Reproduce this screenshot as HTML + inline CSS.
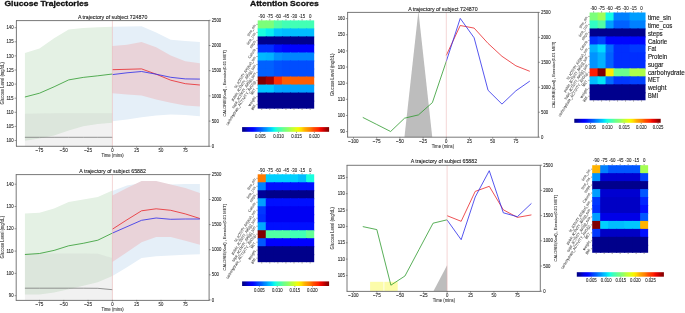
<!DOCTYPE html>
<html><head><meta charset="utf-8"><title>Glucose Trajectories</title>
<style>html,body{margin:0;padding:0;background:#fff;width:685px;height:313px;overflow:hidden}svg{display:block;will-change:transform}text{font-family:"Liberation Sans",sans-serif}</style>
</head><body>
<svg width="685" height="313" viewBox="0 0 685 313" font-family='"Liberation Sans", sans-serif'><defs><linearGradient id="jetg" x1="0" y1="0" x2="1" y2="0"><stop offset="0" stop-color="#000080"/><stop offset="0.03" stop-color="#00009c"/><stop offset="0.05" stop-color="#0000b9"/><stop offset="0.07" stop-color="#0000d6"/><stop offset="0.1" stop-color="#0000f3"/><stop offset="0.12" stop-color="#0000ff"/><stop offset="0.15" stop-color="#0019ff"/><stop offset="0.17" stop-color="#0033ff"/><stop offset="0.2" stop-color="#004dff"/><stop offset="0.23" stop-color="#0066ff"/><stop offset="0.25" stop-color="#0080ff"/><stop offset="0.28" stop-color="#0099ff"/><stop offset="0.3" stop-color="#00b2ff"/><stop offset="0.33" stop-color="#00ccff"/><stop offset="0.35" stop-color="#00e5f7"/><stop offset="0.38" stop-color="#15ffe2"/><stop offset="0.4" stop-color="#29ffce"/><stop offset="0.42" stop-color="#3effb9"/><stop offset="0.45" stop-color="#52ffa5"/><stop offset="0.47" stop-color="#67ff90"/><stop offset="0.5" stop-color="#7bff7b"/><stop offset="0.53" stop-color="#90ff67"/><stop offset="0.55" stop-color="#a5ff52"/><stop offset="0.57" stop-color="#b9ff3e"/><stop offset="0.6" stop-color="#ceff29"/><stop offset="0.62" stop-color="#e2ff15"/><stop offset="0.65" stop-color="#f7f600"/><stop offset="0.68" stop-color="#ffde00"/><stop offset="0.7" stop-color="#ffc600"/><stop offset="0.72" stop-color="#ffaf00"/><stop offset="0.75" stop-color="#ff9700"/><stop offset="0.78" stop-color="#ff8000"/><stop offset="0.8" stop-color="#ff6800"/><stop offset="0.82" stop-color="#ff5000"/><stop offset="0.85" stop-color="#ff3900"/><stop offset="0.88" stop-color="#ff2100"/><stop offset="0.9" stop-color="#f30900"/><stop offset="0.93" stop-color="#d60000"/><stop offset="0.95" stop-color="#b90000"/><stop offset="0.97" stop-color="#9c0000"/><stop offset="1" stop-color="#800000"/></linearGradient></defs>
<clipPath id="clt"><rect x="16.2" y="20.3" width="192.7" height="126"/></clipPath>
<g clip-path="url(#clt)">
<polygon points="24.92,53.1 39.5,48.5 54.08,38.3 68.66,29.4 83.24,28 97.82,27.3 112.4,26.8 112.4,122.8 97.82,124 83.24,126.3 68.66,130.5 54.08,135.5 39.5,138.5 24.92,140.8" fill="#e4f1e4" fill-opacity="1"/>
<polygon points="24.92,113.8 39.5,113.4 54.08,113.2 68.66,113.2 83.24,113.2 97.82,113.2 112.4,113.2 112.4,147 97.82,147 83.24,147 68.66,147 54.08,147 39.5,147 24.92,147" fill="#bdbdbd" fill-opacity="0.22"/>
<polygon points="112.4,26.8 126.98,26.5 141.56,26.3 156.14,32.5 170.72,39.8 185.3,41 199.88,42.1 199.88,116.2 185.3,115 170.72,114.4 156.14,115.5 141.56,117.2 126.98,119.5 112.4,121.3" fill="#e5eff8" fill-opacity="1"/>
<polygon points="112.4,46 126.98,44.7 141.56,42.1 156.14,47.2 170.72,55.5 185.3,61.3 199.88,63.3 199.88,106.5 185.3,105.5 170.72,102.8 156.14,99.5 141.56,95.5 126.98,94.5 112.4,93.2" fill="#e9d3d9" fill-opacity="1"/>
<polyline points="24.92,137.3 39.5,137.3 54.08,137.3 68.66,137.3 83.24,137.3 97.82,137.3 112.4,137.3" fill="none" stroke="#7a7a7a" stroke-width="0.8" stroke-linejoin="round"/>
<polyline points="24.92,97 39.5,93.2 54.08,86.8 68.66,79.9 83.24,77.4 97.82,75.8 112.4,74" fill="none" stroke="#2e9a2e" stroke-width="0.8" stroke-linejoin="round"/>
<polyline points="112.4,69.7 126.98,69.3 141.56,68.9 156.14,74.2 170.72,80.2 185.3,83.7 199.88,85" fill="none" stroke="#e8262a" stroke-width="0.8" stroke-linejoin="round"/>
<polyline points="112.4,74.6 126.98,72.8 141.56,71.5 156.14,74.2 170.72,77.3 185.3,78.9 199.88,79.1" fill="none" stroke="#2b2bea" stroke-width="0.8" stroke-linejoin="round"/>
<line x1="112.4" y1="20.3" x2="112.4" y2="146.3" stroke="#e9aaaa" stroke-width="0.5"/>
</g>
<path d="M16 20.6H209.4M16 146.3H209.4M16.4 20.6V146.3M209 20.6V146.3" stroke="#555" stroke-width="0.8" fill="none"/>
<line x1="14.6" y1="140.5" x2="16.2" y2="140.5" stroke="#555" stroke-width="0.6"/>
<text x="13.6" y="142.1" font-size="4.53" text-anchor="end" fill="#2a2a2a" font-weight="normal" textLength="7.16" lengthAdjust="spacingAndGlyphs" stroke="#2a2a2a" stroke-width="0.1">100</text>
<line x1="14.6" y1="126.4" x2="16.2" y2="126.4" stroke="#555" stroke-width="0.6"/>
<text x="13.6" y="128" font-size="4.53" text-anchor="end" fill="#2a2a2a" font-weight="normal" textLength="7.16" lengthAdjust="spacingAndGlyphs" stroke="#2a2a2a" stroke-width="0.1">105</text>
<line x1="14.6" y1="112.3" x2="16.2" y2="112.3" stroke="#555" stroke-width="0.6"/>
<text x="13.6" y="113.9" font-size="4.53" text-anchor="end" fill="#2a2a2a" font-weight="normal" textLength="7.16" lengthAdjust="spacingAndGlyphs" stroke="#2a2a2a" stroke-width="0.1">110</text>
<line x1="14.6" y1="98.2" x2="16.2" y2="98.2" stroke="#555" stroke-width="0.6"/>
<text x="13.6" y="99.8" font-size="4.53" text-anchor="end" fill="#2a2a2a" font-weight="normal" textLength="7.16" lengthAdjust="spacingAndGlyphs" stroke="#2a2a2a" stroke-width="0.1">115</text>
<line x1="14.6" y1="84.1" x2="16.2" y2="84.1" stroke="#555" stroke-width="0.6"/>
<text x="13.6" y="85.7" font-size="4.53" text-anchor="end" fill="#2a2a2a" font-weight="normal" textLength="7.16" lengthAdjust="spacingAndGlyphs" stroke="#2a2a2a" stroke-width="0.1">120</text>
<line x1="14.6" y1="70" x2="16.2" y2="70" stroke="#555" stroke-width="0.6"/>
<text x="13.6" y="71.6" font-size="4.53" text-anchor="end" fill="#2a2a2a" font-weight="normal" textLength="7.16" lengthAdjust="spacingAndGlyphs" stroke="#2a2a2a" stroke-width="0.1">125</text>
<line x1="14.6" y1="55.9" x2="16.2" y2="55.9" stroke="#555" stroke-width="0.6"/>
<text x="13.6" y="57.5" font-size="4.53" text-anchor="end" fill="#2a2a2a" font-weight="normal" textLength="7.16" lengthAdjust="spacingAndGlyphs" stroke="#2a2a2a" stroke-width="0.1">130</text>
<line x1="14.6" y1="41.8" x2="16.2" y2="41.8" stroke="#555" stroke-width="0.6"/>
<text x="13.6" y="43.4" font-size="4.53" text-anchor="end" fill="#2a2a2a" font-weight="normal" textLength="7.16" lengthAdjust="spacingAndGlyphs" stroke="#2a2a2a" stroke-width="0.1">135</text>
<line x1="14.6" y1="27.7" x2="16.2" y2="27.7" stroke="#555" stroke-width="0.6"/>
<text x="13.6" y="29.3" font-size="4.53" text-anchor="end" fill="#2a2a2a" font-weight="normal" textLength="7.16" lengthAdjust="spacingAndGlyphs" stroke="#2a2a2a" stroke-width="0.1">140</text>
<line x1="208.9" y1="146.3" x2="210.5" y2="146.3" stroke="#555" stroke-width="0.6"/>
<text x="211.7" y="147.9" font-size="4.53" text-anchor="start" fill="#2a2a2a" font-weight="normal" textLength="2.39" lengthAdjust="spacingAndGlyphs" stroke="#2a2a2a" stroke-width="0.1">0</text>
<line x1="208.9" y1="121.1" x2="210.5" y2="121.1" stroke="#555" stroke-width="0.6"/>
<text x="211.7" y="122.7" font-size="4.53" text-anchor="start" fill="#2a2a2a" font-weight="normal" textLength="7.16" lengthAdjust="spacingAndGlyphs" stroke="#2a2a2a" stroke-width="0.1">500</text>
<line x1="208.9" y1="95.9" x2="210.5" y2="95.9" stroke="#555" stroke-width="0.6"/>
<text x="211.7" y="97.5" font-size="4.53" text-anchor="start" fill="#2a2a2a" font-weight="normal" textLength="9.54" lengthAdjust="spacingAndGlyphs" stroke="#2a2a2a" stroke-width="0.1">1000</text>
<line x1="208.9" y1="70.7" x2="210.5" y2="70.7" stroke="#555" stroke-width="0.6"/>
<text x="211.7" y="72.3" font-size="4.53" text-anchor="start" fill="#2a2a2a" font-weight="normal" textLength="9.54" lengthAdjust="spacingAndGlyphs" stroke="#2a2a2a" stroke-width="0.1">1500</text>
<line x1="208.9" y1="45.5" x2="210.5" y2="45.5" stroke="#555" stroke-width="0.6"/>
<text x="211.7" y="47.1" font-size="4.53" text-anchor="start" fill="#2a2a2a" font-weight="normal" textLength="9.54" lengthAdjust="spacingAndGlyphs" stroke="#2a2a2a" stroke-width="0.1">2000</text>
<line x1="208.9" y1="20.3" x2="210.5" y2="20.3" stroke="#555" stroke-width="0.6"/>
<text x="211.7" y="21.9" font-size="4.53" text-anchor="start" fill="#2a2a2a" font-weight="normal" textLength="9.54" lengthAdjust="spacingAndGlyphs" stroke="#2a2a2a" stroke-width="0.1">2500</text>
<line x1="39.5" y1="146.3" x2="39.5" y2="147.9" stroke="#555" stroke-width="0.6"/>
<text x="39.5" y="152.1" font-size="4.53" text-anchor="middle" fill="#2a2a2a" font-weight="normal" textLength="7.91" lengthAdjust="spacingAndGlyphs" stroke="#2a2a2a" stroke-width="0.1">−75</text>
<line x1="63.8" y1="146.3" x2="63.8" y2="147.9" stroke="#555" stroke-width="0.6"/>
<text x="63.8" y="152.1" font-size="4.53" text-anchor="middle" fill="#2a2a2a" font-weight="normal" textLength="7.91" lengthAdjust="spacingAndGlyphs" stroke="#2a2a2a" stroke-width="0.1">−50</text>
<line x1="88.1" y1="146.3" x2="88.1" y2="147.9" stroke="#555" stroke-width="0.6"/>
<text x="88.1" y="152.1" font-size="4.53" text-anchor="middle" fill="#2a2a2a" font-weight="normal" textLength="7.91" lengthAdjust="spacingAndGlyphs" stroke="#2a2a2a" stroke-width="0.1">−25</text>
<line x1="112.4" y1="146.3" x2="112.4" y2="147.9" stroke="#555" stroke-width="0.6"/>
<text x="112.4" y="152.1" font-size="4.53" text-anchor="middle" fill="#2a2a2a" font-weight="normal" textLength="2.39" lengthAdjust="spacingAndGlyphs" stroke="#2a2a2a" stroke-width="0.1">0</text>
<line x1="136.7" y1="146.3" x2="136.7" y2="147.9" stroke="#555" stroke-width="0.6"/>
<text x="136.7" y="152.1" font-size="4.53" text-anchor="middle" fill="#2a2a2a" font-weight="normal" textLength="4.77" lengthAdjust="spacingAndGlyphs" stroke="#2a2a2a" stroke-width="0.1">25</text>
<line x1="161" y1="146.3" x2="161" y2="147.9" stroke="#555" stroke-width="0.6"/>
<text x="161" y="152.1" font-size="4.53" text-anchor="middle" fill="#2a2a2a" font-weight="normal" textLength="4.77" lengthAdjust="spacingAndGlyphs" stroke="#2a2a2a" stroke-width="0.1">50</text>
<line x1="185.3" y1="146.3" x2="185.3" y2="147.9" stroke="#555" stroke-width="0.6"/>
<text x="185.3" y="152.1" font-size="4.53" text-anchor="middle" fill="#2a2a2a" font-weight="normal" textLength="4.77" lengthAdjust="spacingAndGlyphs" stroke="#2a2a2a" stroke-width="0.1">75</text>
<text x="112.55" y="157.3" font-size="4.53" text-anchor="middle" fill="#333" font-weight="normal" textLength="22.32" lengthAdjust="spacingAndGlyphs" stroke="#333" stroke-width="0.08">Time (mins)</text>
<text x="4.2" y="83.3" font-size="4.71" text-anchor="middle" fill="#333" font-weight="normal" transform="rotate(-90 4.2 83.3)" textLength="42.48" lengthAdjust="spacingAndGlyphs" stroke="#333" stroke-width="0.06">Glucose Level (mg/dL)</text>
<text x="226" y="83.3" font-size="3.94" text-anchor="middle" fill="#333" font-weight="normal" transform="rotate(-90 226 83.3)" textLength="66.5" lengthAdjust="spacingAndGlyphs" stroke="#333" stroke-width="0.07">CALORIE(Kcal) , Exercise(0.01 MET)</text>
<text x="112.6" y="18.7" font-size="5.51" text-anchor="middle" fill="#1a1a1a" font-weight="normal" textLength="69.44" lengthAdjust="spacingAndGlyphs" stroke="#1a1a1a" stroke-width="0.1">A trajectory of subject 724870</text>
<clipPath id="clb"><rect x="16.2" y="174.4" width="192.8" height="125.5"/></clipPath>
<g clip-path="url(#clb)">
<polygon points="24.92,213.6 39.5,212.8 54.08,208.5 68.66,202.1 83.24,199.6 97.82,197 112.4,190.6 112.4,276 97.82,282.3 83.24,285.7 68.66,289.2 54.08,292.5 39.5,294.6 24.92,294.6" fill="#e4f1e4" fill-opacity="1"/>
<polygon points="24.92,253.5 39.5,253.5 54.08,253.5 68.66,253.5 83.24,253.5 97.82,253.8 112.4,258 112.4,301 97.82,301 83.24,301 68.66,301 54.08,301 39.5,301 24.92,301" fill="#bdbdbd" fill-opacity="0.22"/>
<polygon points="112.4,190.9 126.98,185.5 141.56,183 156.14,183 170.72,184.5 185.3,184.1 199.88,184.1 199.88,254.3 185.3,254.8 170.72,255.5 156.14,256.3 141.56,258.1 126.98,267.3 112.4,276" fill="#e5eff8" fill-opacity="1"/>
<polygon points="112.4,195.6 126.98,188 141.56,181 156.14,180.9 170.72,184.5 185.3,188 199.88,193.1 199.88,244.8 185.3,240.7 170.72,237.1 156.14,237.1 141.56,242.3 126.98,252.3 112.4,261.9" fill="#e9d3d9" fill-opacity="1"/>
<polyline points="24.92,288.2 39.5,288.2 54.08,288.2 68.66,288.2 83.24,288.2 97.82,288.3 112.4,289.7" fill="none" stroke="#7a7a7a" stroke-width="0.8" stroke-linejoin="round"/>
<polyline points="24.92,254.5 39.5,253.5 54.08,250.4 68.66,245.8 83.24,243.3 97.82,240.2 112.4,233.1" fill="none" stroke="#2e9a2e" stroke-width="0.8" stroke-linejoin="round"/>
<polyline points="112.4,229.2 126.98,219.8 141.56,210.8 156.14,208.8 170.72,210.3 185.3,213.9 199.88,218.5" fill="none" stroke="#e8262a" stroke-width="0.8" stroke-linejoin="round"/>
<polyline points="112.4,233.1 126.98,226.7 141.56,220.3 156.14,218 170.72,219.3 185.3,219 199.88,219" fill="none" stroke="#2b2bea" stroke-width="0.8" stroke-linejoin="round"/>
<line x1="112.4" y1="174.4" x2="112.4" y2="299.9" stroke="#e9aaaa" stroke-width="0.5"/>
</g>
<path d="M15.8 174.6H209.5M15.8 300.4H209.5M16.2 174.6V300.4M209.1 174.6V300.4" stroke="#555" stroke-width="0.8" fill="none"/>
<line x1="14.6" y1="295.7" x2="16.2" y2="295.7" stroke="#555" stroke-width="0.6"/>
<text x="13.6" y="297.3" font-size="4.53" text-anchor="end" fill="#2a2a2a" font-weight="normal" textLength="4.77" lengthAdjust="spacingAndGlyphs" stroke="#2a2a2a" stroke-width="0.1">90</text>
<line x1="14.6" y1="273.4" x2="16.2" y2="273.4" stroke="#555" stroke-width="0.6"/>
<text x="13.6" y="275" font-size="4.53" text-anchor="end" fill="#2a2a2a" font-weight="normal" textLength="7.16" lengthAdjust="spacingAndGlyphs" stroke="#2a2a2a" stroke-width="0.1">100</text>
<line x1="14.6" y1="251.1" x2="16.2" y2="251.1" stroke="#555" stroke-width="0.6"/>
<text x="13.6" y="252.7" font-size="4.53" text-anchor="end" fill="#2a2a2a" font-weight="normal" textLength="7.16" lengthAdjust="spacingAndGlyphs" stroke="#2a2a2a" stroke-width="0.1">110</text>
<line x1="14.6" y1="228.8" x2="16.2" y2="228.8" stroke="#555" stroke-width="0.6"/>
<text x="13.6" y="230.4" font-size="4.53" text-anchor="end" fill="#2a2a2a" font-weight="normal" textLength="7.16" lengthAdjust="spacingAndGlyphs" stroke="#2a2a2a" stroke-width="0.1">120</text>
<line x1="14.6" y1="206.5" x2="16.2" y2="206.5" stroke="#555" stroke-width="0.6"/>
<text x="13.6" y="208.1" font-size="4.53" text-anchor="end" fill="#2a2a2a" font-weight="normal" textLength="7.16" lengthAdjust="spacingAndGlyphs" stroke="#2a2a2a" stroke-width="0.1">130</text>
<line x1="14.6" y1="184.2" x2="16.2" y2="184.2" stroke="#555" stroke-width="0.6"/>
<text x="13.6" y="185.8" font-size="4.53" text-anchor="end" fill="#2a2a2a" font-weight="normal" textLength="7.16" lengthAdjust="spacingAndGlyphs" stroke="#2a2a2a" stroke-width="0.1">140</text>
<line x1="209" y1="299.9" x2="210.6" y2="299.9" stroke="#555" stroke-width="0.6"/>
<text x="211.8" y="301.5" font-size="4.53" text-anchor="start" fill="#2a2a2a" font-weight="normal" textLength="2.39" lengthAdjust="spacingAndGlyphs" stroke="#2a2a2a" stroke-width="0.1">0</text>
<line x1="209" y1="274.8" x2="210.6" y2="274.8" stroke="#555" stroke-width="0.6"/>
<text x="211.8" y="276.4" font-size="4.53" text-anchor="start" fill="#2a2a2a" font-weight="normal" textLength="7.16" lengthAdjust="spacingAndGlyphs" stroke="#2a2a2a" stroke-width="0.1">500</text>
<line x1="209" y1="249.7" x2="210.6" y2="249.7" stroke="#555" stroke-width="0.6"/>
<text x="211.8" y="251.3" font-size="4.53" text-anchor="start" fill="#2a2a2a" font-weight="normal" textLength="9.54" lengthAdjust="spacingAndGlyphs" stroke="#2a2a2a" stroke-width="0.1">1000</text>
<line x1="209" y1="224.6" x2="210.6" y2="224.6" stroke="#555" stroke-width="0.6"/>
<text x="211.8" y="226.2" font-size="4.53" text-anchor="start" fill="#2a2a2a" font-weight="normal" textLength="9.54" lengthAdjust="spacingAndGlyphs" stroke="#2a2a2a" stroke-width="0.1">1500</text>
<line x1="209" y1="199.5" x2="210.6" y2="199.5" stroke="#555" stroke-width="0.6"/>
<text x="211.8" y="201.1" font-size="4.53" text-anchor="start" fill="#2a2a2a" font-weight="normal" textLength="9.54" lengthAdjust="spacingAndGlyphs" stroke="#2a2a2a" stroke-width="0.1">2000</text>
<line x1="209" y1="174.4" x2="210.6" y2="174.4" stroke="#555" stroke-width="0.6"/>
<text x="211.8" y="176" font-size="4.53" text-anchor="start" fill="#2a2a2a" font-weight="normal" textLength="9.54" lengthAdjust="spacingAndGlyphs" stroke="#2a2a2a" stroke-width="0.1">2500</text>
<line x1="39.5" y1="299.9" x2="39.5" y2="301.5" stroke="#555" stroke-width="0.6"/>
<text x="39.5" y="305.7" font-size="4.53" text-anchor="middle" fill="#2a2a2a" font-weight="normal" textLength="7.91" lengthAdjust="spacingAndGlyphs" stroke="#2a2a2a" stroke-width="0.1">−75</text>
<line x1="63.8" y1="299.9" x2="63.8" y2="301.5" stroke="#555" stroke-width="0.6"/>
<text x="63.8" y="305.7" font-size="4.53" text-anchor="middle" fill="#2a2a2a" font-weight="normal" textLength="7.91" lengthAdjust="spacingAndGlyphs" stroke="#2a2a2a" stroke-width="0.1">−50</text>
<line x1="88.1" y1="299.9" x2="88.1" y2="301.5" stroke="#555" stroke-width="0.6"/>
<text x="88.1" y="305.7" font-size="4.53" text-anchor="middle" fill="#2a2a2a" font-weight="normal" textLength="7.91" lengthAdjust="spacingAndGlyphs" stroke="#2a2a2a" stroke-width="0.1">−25</text>
<line x1="112.4" y1="299.9" x2="112.4" y2="301.5" stroke="#555" stroke-width="0.6"/>
<text x="112.4" y="305.7" font-size="4.53" text-anchor="middle" fill="#2a2a2a" font-weight="normal" textLength="2.39" lengthAdjust="spacingAndGlyphs" stroke="#2a2a2a" stroke-width="0.1">0</text>
<line x1="136.7" y1="299.9" x2="136.7" y2="301.5" stroke="#555" stroke-width="0.6"/>
<text x="136.7" y="305.7" font-size="4.53" text-anchor="middle" fill="#2a2a2a" font-weight="normal" textLength="4.77" lengthAdjust="spacingAndGlyphs" stroke="#2a2a2a" stroke-width="0.1">25</text>
<line x1="161" y1="299.9" x2="161" y2="301.5" stroke="#555" stroke-width="0.6"/>
<text x="161" y="305.7" font-size="4.53" text-anchor="middle" fill="#2a2a2a" font-weight="normal" textLength="4.77" lengthAdjust="spacingAndGlyphs" stroke="#2a2a2a" stroke-width="0.1">50</text>
<line x1="185.3" y1="299.9" x2="185.3" y2="301.5" stroke="#555" stroke-width="0.6"/>
<text x="185.3" y="305.7" font-size="4.53" text-anchor="middle" fill="#2a2a2a" font-weight="normal" textLength="4.77" lengthAdjust="spacingAndGlyphs" stroke="#2a2a2a" stroke-width="0.1">75</text>
<text x="112.6" y="310.9" font-size="4.53" text-anchor="middle" fill="#333" font-weight="normal" textLength="22.32" lengthAdjust="spacingAndGlyphs" stroke="#333" stroke-width="0.08">Time (mins)</text>
<text x="4.2" y="237.15" font-size="4.71" text-anchor="middle" fill="#333" font-weight="normal" transform="rotate(-90 4.2 237.15)" textLength="42.48" lengthAdjust="spacingAndGlyphs" stroke="#333" stroke-width="0.06">Glucose Level (mg/dL)</text>
<text x="226" y="237.15" font-size="3.94" text-anchor="middle" fill="#333" font-weight="normal" transform="rotate(-90 226 237.15)" textLength="66.5" lengthAdjust="spacingAndGlyphs" stroke="#333" stroke-width="0.07">CALORIE(Kcal) , Exercise(0.01 MET)</text>
<text x="112.6" y="172.7" font-size="5.51" text-anchor="middle" fill="#1a1a1a" font-weight="normal" textLength="66.53" lengthAdjust="spacingAndGlyphs" stroke="#1a1a1a" stroke-width="0.1">A trajectory of subject 65882</text>
<clipPath id="cmt"><rect x="347.5" y="12.4" width="190.8" height="124.8"/></clipPath>
<g clip-path="url(#cmt)">
<polygon points="404.4,137.5 418.4,11 432.3,137.5" fill="#bdbdbd" fill-opacity="1"/>
<polyline points="362.78,117.4 376.7,124.45 390.62,131.5 404.54,118.2 418.46,114.9 432.38,102.6 446.3,61.3" fill="none" stroke="#2e9a2e" stroke-width="0.8" stroke-linejoin="round"/>
<polyline points="446.3,55.4 460.22,25.5 474.14,28.1 488.06,43.4 501.98,56.3 515.9,65.8 529.82,71.3" fill="none" stroke="#e8262a" stroke-width="0.8" stroke-linejoin="round"/>
<polyline points="446.3,61.3 460.22,18.4 474.14,37.8 488.06,90.3 501.98,104.1 515.9,90.8 529.82,81.1" fill="none" stroke="#2b2bea" stroke-width="0.8" stroke-linejoin="round"/>
<line x1="446.3" y1="12.4" x2="446.3" y2="137.2" stroke="#e9aaaa" stroke-width="0.5"/>
</g>
<path d="M347.2 12.4H538.7M347.2 137.2H538.7M347.6 12.4V137.2M538.3 12.4V137.2" stroke="#555" stroke-width="0.8" fill="none"/>
<line x1="345.9" y1="131.6" x2="347.5" y2="131.6" stroke="#555" stroke-width="0.6"/>
<text x="344.9" y="133.2" font-size="4.53" text-anchor="end" fill="#2a2a2a" font-weight="normal" textLength="4.77" lengthAdjust="spacingAndGlyphs" stroke="#2a2a2a" stroke-width="0.1">90</text>
<line x1="345.9" y1="115.46" x2="347.5" y2="115.46" stroke="#555" stroke-width="0.6"/>
<text x="344.9" y="117.06" font-size="4.53" text-anchor="end" fill="#2a2a2a" font-weight="normal" textLength="7.16" lengthAdjust="spacingAndGlyphs" stroke="#2a2a2a" stroke-width="0.1">100</text>
<line x1="345.9" y1="99.32" x2="347.5" y2="99.32" stroke="#555" stroke-width="0.6"/>
<text x="344.9" y="100.92" font-size="4.53" text-anchor="end" fill="#2a2a2a" font-weight="normal" textLength="7.16" lengthAdjust="spacingAndGlyphs" stroke="#2a2a2a" stroke-width="0.1">110</text>
<line x1="345.9" y1="83.18" x2="347.5" y2="83.18" stroke="#555" stroke-width="0.6"/>
<text x="344.9" y="84.78" font-size="4.53" text-anchor="end" fill="#2a2a2a" font-weight="normal" textLength="7.16" lengthAdjust="spacingAndGlyphs" stroke="#2a2a2a" stroke-width="0.1">120</text>
<line x1="345.9" y1="67.04" x2="347.5" y2="67.04" stroke="#555" stroke-width="0.6"/>
<text x="344.9" y="68.64" font-size="4.53" text-anchor="end" fill="#2a2a2a" font-weight="normal" textLength="7.16" lengthAdjust="spacingAndGlyphs" stroke="#2a2a2a" stroke-width="0.1">130</text>
<line x1="345.9" y1="50.9" x2="347.5" y2="50.9" stroke="#555" stroke-width="0.6"/>
<text x="344.9" y="52.5" font-size="4.53" text-anchor="end" fill="#2a2a2a" font-weight="normal" textLength="7.16" lengthAdjust="spacingAndGlyphs" stroke="#2a2a2a" stroke-width="0.1">140</text>
<line x1="345.9" y1="34.76" x2="347.5" y2="34.76" stroke="#555" stroke-width="0.6"/>
<text x="344.9" y="36.36" font-size="4.53" text-anchor="end" fill="#2a2a2a" font-weight="normal" textLength="7.16" lengthAdjust="spacingAndGlyphs" stroke="#2a2a2a" stroke-width="0.1">150</text>
<line x1="345.9" y1="18.62" x2="347.5" y2="18.62" stroke="#555" stroke-width="0.6"/>
<text x="344.9" y="20.22" font-size="4.53" text-anchor="end" fill="#2a2a2a" font-weight="normal" textLength="7.16" lengthAdjust="spacingAndGlyphs" stroke="#2a2a2a" stroke-width="0.1">160</text>
<line x1="538.3" y1="137.2" x2="539.9" y2="137.2" stroke="#555" stroke-width="0.6"/>
<text x="541.1" y="138.8" font-size="4.53" text-anchor="start" fill="#2a2a2a" font-weight="normal" textLength="2.39" lengthAdjust="spacingAndGlyphs" stroke="#2a2a2a" stroke-width="0.1">0</text>
<line x1="538.3" y1="112.24" x2="539.9" y2="112.24" stroke="#555" stroke-width="0.6"/>
<text x="541.1" y="113.84" font-size="4.53" text-anchor="start" fill="#2a2a2a" font-weight="normal" textLength="7.16" lengthAdjust="spacingAndGlyphs" stroke="#2a2a2a" stroke-width="0.1">500</text>
<line x1="538.3" y1="87.28" x2="539.9" y2="87.28" stroke="#555" stroke-width="0.6"/>
<text x="541.1" y="88.88" font-size="4.53" text-anchor="start" fill="#2a2a2a" font-weight="normal" textLength="9.54" lengthAdjust="spacingAndGlyphs" stroke="#2a2a2a" stroke-width="0.1">1000</text>
<line x1="538.3" y1="62.32" x2="539.9" y2="62.32" stroke="#555" stroke-width="0.6"/>
<text x="541.1" y="63.92" font-size="4.53" text-anchor="start" fill="#2a2a2a" font-weight="normal" textLength="9.54" lengthAdjust="spacingAndGlyphs" stroke="#2a2a2a" stroke-width="0.1">1500</text>
<line x1="538.3" y1="37.36" x2="539.9" y2="37.36" stroke="#555" stroke-width="0.6"/>
<text x="541.1" y="38.96" font-size="4.53" text-anchor="start" fill="#2a2a2a" font-weight="normal" textLength="9.54" lengthAdjust="spacingAndGlyphs" stroke="#2a2a2a" stroke-width="0.1">2000</text>
<line x1="538.3" y1="12.4" x2="539.9" y2="12.4" stroke="#555" stroke-width="0.6"/>
<text x="541.1" y="14" font-size="4.53" text-anchor="start" fill="#2a2a2a" font-weight="normal" textLength="9.54" lengthAdjust="spacingAndGlyphs" stroke="#2a2a2a" stroke-width="0.1">2500</text>
<line x1="353.5" y1="137.2" x2="353.5" y2="138.8" stroke="#555" stroke-width="0.6"/>
<text x="353.5" y="143" font-size="4.53" text-anchor="middle" fill="#2a2a2a" font-weight="normal" textLength="10.3" lengthAdjust="spacingAndGlyphs" stroke="#2a2a2a" stroke-width="0.1">−100</text>
<line x1="376.7" y1="137.2" x2="376.7" y2="138.8" stroke="#555" stroke-width="0.6"/>
<text x="376.7" y="143" font-size="4.53" text-anchor="middle" fill="#2a2a2a" font-weight="normal" textLength="7.91" lengthAdjust="spacingAndGlyphs" stroke="#2a2a2a" stroke-width="0.1">−75</text>
<line x1="399.9" y1="137.2" x2="399.9" y2="138.8" stroke="#555" stroke-width="0.6"/>
<text x="399.9" y="143" font-size="4.53" text-anchor="middle" fill="#2a2a2a" font-weight="normal" textLength="7.91" lengthAdjust="spacingAndGlyphs" stroke="#2a2a2a" stroke-width="0.1">−50</text>
<line x1="423.1" y1="137.2" x2="423.1" y2="138.8" stroke="#555" stroke-width="0.6"/>
<text x="423.1" y="143" font-size="4.53" text-anchor="middle" fill="#2a2a2a" font-weight="normal" textLength="7.91" lengthAdjust="spacingAndGlyphs" stroke="#2a2a2a" stroke-width="0.1">−25</text>
<line x1="446.3" y1="137.2" x2="446.3" y2="138.8" stroke="#555" stroke-width="0.6"/>
<text x="446.3" y="143" font-size="4.53" text-anchor="middle" fill="#2a2a2a" font-weight="normal" textLength="2.39" lengthAdjust="spacingAndGlyphs" stroke="#2a2a2a" stroke-width="0.1">0</text>
<line x1="469.5" y1="137.2" x2="469.5" y2="138.8" stroke="#555" stroke-width="0.6"/>
<text x="469.5" y="143" font-size="4.53" text-anchor="middle" fill="#2a2a2a" font-weight="normal" textLength="4.77" lengthAdjust="spacingAndGlyphs" stroke="#2a2a2a" stroke-width="0.1">25</text>
<line x1="492.7" y1="137.2" x2="492.7" y2="138.8" stroke="#555" stroke-width="0.6"/>
<text x="492.7" y="143" font-size="4.53" text-anchor="middle" fill="#2a2a2a" font-weight="normal" textLength="4.77" lengthAdjust="spacingAndGlyphs" stroke="#2a2a2a" stroke-width="0.1">50</text>
<line x1="515.9" y1="137.2" x2="515.9" y2="138.8" stroke="#555" stroke-width="0.6"/>
<text x="515.9" y="143" font-size="4.53" text-anchor="middle" fill="#2a2a2a" font-weight="normal" textLength="4.77" lengthAdjust="spacingAndGlyphs" stroke="#2a2a2a" stroke-width="0.1">75</text>
<text x="442.9" y="148.2" font-size="4.53" text-anchor="middle" fill="#333" font-weight="normal" textLength="22.32" lengthAdjust="spacingAndGlyphs" stroke="#333" stroke-width="0.08">Time (mins)</text>
<text x="334.4" y="74.8" font-size="4.71" text-anchor="middle" fill="#333" font-weight="normal" transform="rotate(-90 334.4 74.8)" textLength="42.48" lengthAdjust="spacingAndGlyphs" stroke="#333" stroke-width="0.06">Glucose Level (mg/dL)</text>
<text x="555" y="74.8" font-size="3.94" text-anchor="middle" fill="#333" font-weight="normal" transform="rotate(-90 555 74.8)" textLength="66.5" lengthAdjust="spacingAndGlyphs" stroke="#333" stroke-width="0.07">CALORIE(Kcal) , Exercise(0.01 MET)</text>
<text x="442.9" y="10.8" font-size="5.51" text-anchor="middle" fill="#1a1a1a" font-weight="normal" textLength="69.44" lengthAdjust="spacingAndGlyphs" stroke="#1a1a1a" stroke-width="0.1">A trajectory of subject 724870</text>
<clipPath id="cmb"><rect x="347.5" y="165.2" width="193" height="126"/></clipPath>
<g clip-path="url(#cmb)">
<rect x="370.1" y="281.8" width="13.4" height="9.2" fill="#fcfcaa"/>
<rect x="384.3" y="281.8" width="13.4" height="9.2" fill="#fcfcaa"/>
<polygon points="433.4,291.2 447.1,265.2 447.1,291.2" fill="#bdbdbd" fill-opacity="1"/>
<polyline points="362.77,226.6 376.83,229.6 390.88,285.2 404.94,276 418.99,249.6 433.05,223.2 447.1,219.8" fill="none" stroke="#2e9a2e" stroke-width="0.8" stroke-linejoin="round"/>
<polyline points="447.1,215.7 461.16,221.3 475.21,191.4 489.27,186.3 503.32,209.8 517.38,217.4 531.43,214.9" fill="none" stroke="#e8262a" stroke-width="0.8" stroke-linejoin="round"/>
<polyline points="447.1,220 461.16,239.7 475.21,197 489.27,170.7 503.32,212.8 517.38,216.7 531.43,203.4" fill="none" stroke="#2b2bea" stroke-width="0.8" stroke-linejoin="round"/>
<line x1="447.1" y1="165.2" x2="447.1" y2="291.2" stroke="#e9aaaa" stroke-width="0.5"/>
</g>
<path d="M346.6 165.3H540.7M346.6 291.4H540.7M347 165.3V291.4M540.3 165.3V291.4" stroke="#555" stroke-width="0.8" fill="none"/>
<line x1="345.9" y1="275.45" x2="347.5" y2="275.45" stroke="#555" stroke-width="0.6"/>
<text x="344.9" y="277.05" font-size="4.53" text-anchor="end" fill="#2a2a2a" font-weight="normal" textLength="7.16" lengthAdjust="spacingAndGlyphs" stroke="#2a2a2a" stroke-width="0.1">105</text>
<line x1="345.9" y1="259.1" x2="347.5" y2="259.1" stroke="#555" stroke-width="0.6"/>
<text x="344.9" y="260.7" font-size="4.53" text-anchor="end" fill="#2a2a2a" font-weight="normal" textLength="7.16" lengthAdjust="spacingAndGlyphs" stroke="#2a2a2a" stroke-width="0.1">110</text>
<line x1="345.9" y1="242.75" x2="347.5" y2="242.75" stroke="#555" stroke-width="0.6"/>
<text x="344.9" y="244.35" font-size="4.53" text-anchor="end" fill="#2a2a2a" font-weight="normal" textLength="7.16" lengthAdjust="spacingAndGlyphs" stroke="#2a2a2a" stroke-width="0.1">115</text>
<line x1="345.9" y1="226.4" x2="347.5" y2="226.4" stroke="#555" stroke-width="0.6"/>
<text x="344.9" y="228" font-size="4.53" text-anchor="end" fill="#2a2a2a" font-weight="normal" textLength="7.16" lengthAdjust="spacingAndGlyphs" stroke="#2a2a2a" stroke-width="0.1">120</text>
<line x1="345.9" y1="210.05" x2="347.5" y2="210.05" stroke="#555" stroke-width="0.6"/>
<text x="344.9" y="211.65" font-size="4.53" text-anchor="end" fill="#2a2a2a" font-weight="normal" textLength="7.16" lengthAdjust="spacingAndGlyphs" stroke="#2a2a2a" stroke-width="0.1">125</text>
<line x1="345.9" y1="193.7" x2="347.5" y2="193.7" stroke="#555" stroke-width="0.6"/>
<text x="344.9" y="195.3" font-size="4.53" text-anchor="end" fill="#2a2a2a" font-weight="normal" textLength="7.16" lengthAdjust="spacingAndGlyphs" stroke="#2a2a2a" stroke-width="0.1">130</text>
<line x1="345.9" y1="177.35" x2="347.5" y2="177.35" stroke="#555" stroke-width="0.6"/>
<text x="344.9" y="178.95" font-size="4.53" text-anchor="end" fill="#2a2a2a" font-weight="normal" textLength="7.16" lengthAdjust="spacingAndGlyphs" stroke="#2a2a2a" stroke-width="0.1">135</text>
<line x1="540.5" y1="291.2" x2="542.1" y2="291.2" stroke="#555" stroke-width="0.6"/>
<text x="543.3" y="292.8" font-size="4.53" text-anchor="start" fill="#2a2a2a" font-weight="normal" textLength="2.39" lengthAdjust="spacingAndGlyphs" stroke="#2a2a2a" stroke-width="0.1">0</text>
<line x1="540.5" y1="266" x2="542.1" y2="266" stroke="#555" stroke-width="0.6"/>
<text x="543.3" y="267.6" font-size="4.53" text-anchor="start" fill="#2a2a2a" font-weight="normal" textLength="7.16" lengthAdjust="spacingAndGlyphs" stroke="#2a2a2a" stroke-width="0.1">500</text>
<line x1="540.5" y1="240.8" x2="542.1" y2="240.8" stroke="#555" stroke-width="0.6"/>
<text x="543.3" y="242.4" font-size="4.53" text-anchor="start" fill="#2a2a2a" font-weight="normal" textLength="9.54" lengthAdjust="spacingAndGlyphs" stroke="#2a2a2a" stroke-width="0.1">1000</text>
<line x1="540.5" y1="215.6" x2="542.1" y2="215.6" stroke="#555" stroke-width="0.6"/>
<text x="543.3" y="217.2" font-size="4.53" text-anchor="start" fill="#2a2a2a" font-weight="normal" textLength="9.54" lengthAdjust="spacingAndGlyphs" stroke="#2a2a2a" stroke-width="0.1">1500</text>
<line x1="540.5" y1="190.4" x2="542.1" y2="190.4" stroke="#555" stroke-width="0.6"/>
<text x="543.3" y="192" font-size="4.53" text-anchor="start" fill="#2a2a2a" font-weight="normal" textLength="9.54" lengthAdjust="spacingAndGlyphs" stroke="#2a2a2a" stroke-width="0.1">2000</text>
<line x1="540.5" y1="165.2" x2="542.1" y2="165.2" stroke="#555" stroke-width="0.6"/>
<text x="543.3" y="166.8" font-size="4.53" text-anchor="start" fill="#2a2a2a" font-weight="normal" textLength="9.54" lengthAdjust="spacingAndGlyphs" stroke="#2a2a2a" stroke-width="0.1">2500</text>
<line x1="353.4" y1="291.2" x2="353.4" y2="292.8" stroke="#555" stroke-width="0.6"/>
<text x="353.4" y="297" font-size="4.53" text-anchor="middle" fill="#2a2a2a" font-weight="normal" textLength="10.3" lengthAdjust="spacingAndGlyphs" stroke="#2a2a2a" stroke-width="0.1">−100</text>
<line x1="376.83" y1="291.2" x2="376.83" y2="292.8" stroke="#555" stroke-width="0.6"/>
<text x="376.83" y="297" font-size="4.53" text-anchor="middle" fill="#2a2a2a" font-weight="normal" textLength="7.91" lengthAdjust="spacingAndGlyphs" stroke="#2a2a2a" stroke-width="0.1">−75</text>
<line x1="400.25" y1="291.2" x2="400.25" y2="292.8" stroke="#555" stroke-width="0.6"/>
<text x="400.25" y="297" font-size="4.53" text-anchor="middle" fill="#2a2a2a" font-weight="normal" textLength="7.91" lengthAdjust="spacingAndGlyphs" stroke="#2a2a2a" stroke-width="0.1">−50</text>
<line x1="423.68" y1="291.2" x2="423.68" y2="292.8" stroke="#555" stroke-width="0.6"/>
<text x="423.68" y="297" font-size="4.53" text-anchor="middle" fill="#2a2a2a" font-weight="normal" textLength="7.91" lengthAdjust="spacingAndGlyphs" stroke="#2a2a2a" stroke-width="0.1">−25</text>
<line x1="447.1" y1="291.2" x2="447.1" y2="292.8" stroke="#555" stroke-width="0.6"/>
<text x="447.1" y="297" font-size="4.53" text-anchor="middle" fill="#2a2a2a" font-weight="normal" textLength="2.39" lengthAdjust="spacingAndGlyphs" stroke="#2a2a2a" stroke-width="0.1">0</text>
<line x1="470.53" y1="291.2" x2="470.53" y2="292.8" stroke="#555" stroke-width="0.6"/>
<text x="470.53" y="297" font-size="4.53" text-anchor="middle" fill="#2a2a2a" font-weight="normal" textLength="4.77" lengthAdjust="spacingAndGlyphs" stroke="#2a2a2a" stroke-width="0.1">25</text>
<line x1="493.95" y1="291.2" x2="493.95" y2="292.8" stroke="#555" stroke-width="0.6"/>
<text x="493.95" y="297" font-size="4.53" text-anchor="middle" fill="#2a2a2a" font-weight="normal" textLength="4.77" lengthAdjust="spacingAndGlyphs" stroke="#2a2a2a" stroke-width="0.1">50</text>
<line x1="517.38" y1="291.2" x2="517.38" y2="292.8" stroke="#555" stroke-width="0.6"/>
<text x="517.38" y="297" font-size="4.53" text-anchor="middle" fill="#2a2a2a" font-weight="normal" textLength="4.77" lengthAdjust="spacingAndGlyphs" stroke="#2a2a2a" stroke-width="0.1">75</text>
<text x="444" y="302.2" font-size="4.53" text-anchor="middle" fill="#333" font-weight="normal" textLength="22.32" lengthAdjust="spacingAndGlyphs" stroke="#333" stroke-width="0.08">Time (mins)</text>
<text x="334.4" y="228.2" font-size="4.71" text-anchor="middle" fill="#333" font-weight="normal" transform="rotate(-90 334.4 228.2)" textLength="42.48" lengthAdjust="spacingAndGlyphs" stroke="#333" stroke-width="0.06">Glucose Level (mg/dL)</text>
<text x="557" y="228.2" font-size="3.94" text-anchor="middle" fill="#333" font-weight="normal" transform="rotate(-90 557 228.2)" textLength="66.5" lengthAdjust="spacingAndGlyphs" stroke="#333" stroke-width="0.07">CALORIE(Kcal) , Exercise(0.01 MET)</text>
<text x="443.9" y="163.3" font-size="5.51" text-anchor="middle" fill="#1a1a1a" font-weight="normal" textLength="66.53" lengthAdjust="spacingAndGlyphs" stroke="#1a1a1a" stroke-width="0.1">A trajectory of subject 65882</text>
<rect x="257.7" y="20.4" width="9.07" height="9.02" fill="#7bff7b"/>
<rect x="265.77" y="20.4" width="9.07" height="9.02" fill="#7bff7b"/>
<rect x="273.84" y="20.4" width="9.07" height="9.02" fill="#52ffa5"/>
<rect x="281.91" y="20.4" width="9.07" height="9.02" fill="#42ffb5"/>
<rect x="289.98" y="20.4" width="9.07" height="9.02" fill="#42ffb5"/>
<rect x="298.05" y="20.4" width="9.07" height="9.02" fill="#42ffb5"/>
<rect x="306.12" y="20.4" width="8.07" height="9.02" fill="#42ffb5"/>
<rect x="257.7" y="28.42" width="9.07" height="9.02" fill="#19ffde"/>
<rect x="265.77" y="28.42" width="9.07" height="9.02" fill="#08f0ef"/>
<rect x="273.84" y="28.42" width="9.07" height="9.02" fill="#00c7ff"/>
<rect x="281.91" y="28.42" width="9.07" height="9.02" fill="#00bdff"/>
<rect x="289.98" y="28.42" width="9.07" height="9.02" fill="#00bdff"/>
<rect x="298.05" y="28.42" width="9.07" height="9.02" fill="#00bdff"/>
<rect x="306.12" y="28.42" width="8.07" height="9.02" fill="#00bdff"/>
<rect x="257.7" y="36.44" width="9.07" height="9.02" fill="#00008d"/>
<rect x="265.77" y="36.44" width="9.07" height="9.02" fill="#00008d"/>
<rect x="273.84" y="36.44" width="9.07" height="9.02" fill="#00008d"/>
<rect x="281.91" y="36.44" width="9.07" height="9.02" fill="#00008d"/>
<rect x="289.98" y="36.44" width="9.07" height="9.02" fill="#00008d"/>
<rect x="298.05" y="36.44" width="9.07" height="9.02" fill="#00008d"/>
<rect x="306.12" y="36.44" width="8.07" height="9.02" fill="#00008d"/>
<rect x="257.7" y="44.46" width="9.07" height="9.02" fill="#002eff"/>
<rect x="265.77" y="44.46" width="9.07" height="9.02" fill="#002eff"/>
<rect x="273.84" y="44.46" width="9.07" height="9.02" fill="#000fff"/>
<rect x="281.91" y="44.46" width="9.07" height="9.02" fill="#0003ff"/>
<rect x="289.98" y="44.46" width="9.07" height="9.02" fill="#0003ff"/>
<rect x="298.05" y="44.46" width="9.07" height="9.02" fill="#0003ff"/>
<rect x="306.12" y="44.46" width="8.07" height="9.02" fill="#0003ff"/>
<rect x="257.7" y="52.48" width="9.07" height="9.02" fill="#00b8ff"/>
<rect x="265.77" y="52.48" width="9.07" height="9.02" fill="#00b2ff"/>
<rect x="273.84" y="52.48" width="9.07" height="9.02" fill="#008fff"/>
<rect x="281.91" y="52.48" width="9.07" height="9.02" fill="#0085ff"/>
<rect x="289.98" y="52.48" width="9.07" height="9.02" fill="#0085ff"/>
<rect x="298.05" y="52.48" width="9.07" height="9.02" fill="#0085ff"/>
<rect x="306.12" y="52.48" width="8.07" height="9.02" fill="#0085ff"/>
<rect x="257.7" y="60.5" width="9.07" height="9.02" fill="#0061ff"/>
<rect x="265.77" y="60.5" width="9.07" height="9.02" fill="#0061ff"/>
<rect x="273.84" y="60.5" width="9.07" height="9.02" fill="#0052ff"/>
<rect x="281.91" y="60.5" width="9.07" height="9.02" fill="#004dff"/>
<rect x="289.98" y="60.5" width="9.07" height="9.02" fill="#004dff"/>
<rect x="298.05" y="60.5" width="9.07" height="9.02" fill="#004dff"/>
<rect x="306.12" y="60.5" width="8.07" height="9.02" fill="#004dff"/>
<rect x="257.7" y="68.52" width="9.07" height="9.02" fill="#0061ff"/>
<rect x="265.77" y="68.52" width="9.07" height="9.02" fill="#0061ff"/>
<rect x="273.84" y="68.52" width="9.07" height="9.02" fill="#0052ff"/>
<rect x="281.91" y="68.52" width="9.07" height="9.02" fill="#004dff"/>
<rect x="289.98" y="68.52" width="9.07" height="9.02" fill="#004dff"/>
<rect x="298.05" y="68.52" width="9.07" height="9.02" fill="#004dff"/>
<rect x="306.12" y="68.52" width="8.07" height="9.02" fill="#004dff"/>
<rect x="257.7" y="76.54" width="9.07" height="9.02" fill="#800000"/>
<rect x="265.77" y="76.54" width="9.07" height="9.02" fill="#a20000"/>
<rect x="273.84" y="76.54" width="9.07" height="9.02" fill="#ff2f00"/>
<rect x="281.91" y="76.54" width="9.07" height="9.02" fill="#ff5e00"/>
<rect x="289.98" y="76.54" width="9.07" height="9.02" fill="#ff5e00"/>
<rect x="298.05" y="76.54" width="9.07" height="9.02" fill="#ff5e00"/>
<rect x="306.12" y="76.54" width="8.07" height="9.02" fill="#ff5e00"/>
<rect x="257.7" y="84.56" width="9.07" height="9.02" fill="#00c7ff"/>
<rect x="265.77" y="84.56" width="9.07" height="9.02" fill="#00c7ff"/>
<rect x="273.84" y="84.56" width="9.07" height="9.02" fill="#00a8ff"/>
<rect x="281.91" y="84.56" width="9.07" height="9.02" fill="#00a3ff"/>
<rect x="289.98" y="84.56" width="9.07" height="9.02" fill="#00a3ff"/>
<rect x="298.05" y="84.56" width="9.07" height="9.02" fill="#00a3ff"/>
<rect x="306.12" y="84.56" width="8.07" height="9.02" fill="#00a3ff"/>
<rect x="257.7" y="92.58" width="9.07" height="9.02" fill="#00008d"/>
<rect x="265.77" y="92.58" width="9.07" height="9.02" fill="#00008d"/>
<rect x="273.84" y="92.58" width="9.07" height="9.02" fill="#00008d"/>
<rect x="281.91" y="92.58" width="9.07" height="9.02" fill="#00008d"/>
<rect x="289.98" y="92.58" width="9.07" height="9.02" fill="#00008d"/>
<rect x="298.05" y="92.58" width="9.07" height="9.02" fill="#00008d"/>
<rect x="306.12" y="92.58" width="8.07" height="9.02" fill="#00008d"/>
<rect x="257.7" y="100.6" width="9.07" height="8.02" fill="#00008d"/>
<rect x="265.77" y="100.6" width="9.07" height="8.02" fill="#00008d"/>
<rect x="273.84" y="100.6" width="9.07" height="8.02" fill="#00008d"/>
<rect x="281.91" y="100.6" width="9.07" height="8.02" fill="#00008d"/>
<rect x="289.98" y="100.6" width="9.07" height="8.02" fill="#00008d"/>
<rect x="298.05" y="100.6" width="9.07" height="8.02" fill="#00008d"/>
<rect x="306.12" y="100.6" width="8.07" height="8.02" fill="#00008d"/>
<line x1="261.74" y1="20.4" x2="261.74" y2="19.1" stroke="#444" stroke-width="0.5"/>
<line x1="261.74" y1="108.62" x2="261.74" y2="109.92" stroke="#444" stroke-width="0.5"/>
<text x="261.74" y="17.6" font-size="4.5" text-anchor="middle" fill="#2a2a2a" font-weight="normal" textLength="6.37" lengthAdjust="spacingAndGlyphs" stroke="#2a2a2a" stroke-width="0.1">-90</text>
<line x1="269.81" y1="20.4" x2="269.81" y2="19.1" stroke="#444" stroke-width="0.5"/>
<line x1="269.81" y1="108.62" x2="269.81" y2="109.92" stroke="#444" stroke-width="0.5"/>
<text x="269.81" y="17.6" font-size="4.5" text-anchor="middle" fill="#2a2a2a" font-weight="normal" textLength="6.37" lengthAdjust="spacingAndGlyphs" stroke="#2a2a2a" stroke-width="0.1">-75</text>
<line x1="277.88" y1="20.4" x2="277.88" y2="19.1" stroke="#444" stroke-width="0.5"/>
<line x1="277.88" y1="108.62" x2="277.88" y2="109.92" stroke="#444" stroke-width="0.5"/>
<text x="277.88" y="17.6" font-size="4.5" text-anchor="middle" fill="#2a2a2a" font-weight="normal" textLength="6.37" lengthAdjust="spacingAndGlyphs" stroke="#2a2a2a" stroke-width="0.1">-60</text>
<line x1="285.94" y1="20.4" x2="285.94" y2="19.1" stroke="#444" stroke-width="0.5"/>
<line x1="285.94" y1="108.62" x2="285.94" y2="109.92" stroke="#444" stroke-width="0.5"/>
<text x="285.94" y="17.6" font-size="4.5" text-anchor="middle" fill="#2a2a2a" font-weight="normal" textLength="6.37" lengthAdjust="spacingAndGlyphs" stroke="#2a2a2a" stroke-width="0.1">-45</text>
<line x1="294.01" y1="20.4" x2="294.01" y2="19.1" stroke="#444" stroke-width="0.5"/>
<line x1="294.01" y1="108.62" x2="294.01" y2="109.92" stroke="#444" stroke-width="0.5"/>
<text x="294.01" y="17.6" font-size="4.5" text-anchor="middle" fill="#2a2a2a" font-weight="normal" textLength="6.37" lengthAdjust="spacingAndGlyphs" stroke="#2a2a2a" stroke-width="0.1">-30</text>
<line x1="302.08" y1="20.4" x2="302.08" y2="19.1" stroke="#444" stroke-width="0.5"/>
<line x1="302.08" y1="108.62" x2="302.08" y2="109.92" stroke="#444" stroke-width="0.5"/>
<text x="302.08" y="17.6" font-size="4.5" text-anchor="middle" fill="#2a2a2a" font-weight="normal" textLength="6.37" lengthAdjust="spacingAndGlyphs" stroke="#2a2a2a" stroke-width="0.1">-15</text>
<line x1="310.15" y1="20.4" x2="310.15" y2="19.1" stroke="#444" stroke-width="0.5"/>
<line x1="310.15" y1="108.62" x2="310.15" y2="109.92" stroke="#444" stroke-width="0.5"/>
<text x="310.15" y="17.6" font-size="4.5" text-anchor="middle" fill="#2a2a2a" font-weight="normal" textLength="2.48" lengthAdjust="spacingAndGlyphs" stroke="#2a2a2a" stroke-width="0.1">0</text>
<line x1="256.4" y1="24.41" x2="257.7" y2="24.41" stroke="#444" stroke-width="0.5"/>
<text x="254.7" y="24.71" font-size="3.91" text-anchor="end" fill="#444" font-weight="normal" transform="rotate(-57.5 254.7 24.71)" textLength="12.99" lengthAdjust="spacingAndGlyphs" stroke="#444" stroke-width="0.05" dominant-baseline="central">time_sin</text>
<line x1="256.4" y1="32.43" x2="257.7" y2="32.43" stroke="#444" stroke-width="0.5"/>
<text x="254.7" y="32.73" font-size="3.91" text-anchor="end" fill="#444" font-weight="normal" transform="rotate(-57.5 254.7 32.73)" textLength="13.77" lengthAdjust="spacingAndGlyphs" stroke="#444" stroke-width="0.05" dominant-baseline="central">time_cos</text>
<line x1="256.4" y1="40.45" x2="257.7" y2="40.45" stroke="#444" stroke-width="0.5"/>
<text x="254.7" y="40.75" font-size="3.91" text-anchor="end" fill="#444" font-weight="normal" transform="rotate(-57.5 254.7 40.75)" textLength="8.32" lengthAdjust="spacingAndGlyphs" stroke="#444" stroke-width="0.05" dominant-baseline="central">steps</text>
<line x1="256.4" y1="48.47" x2="257.7" y2="48.47" stroke="#444" stroke-width="0.5"/>
<text x="254.7" y="48.77" font-size="3.91" text-anchor="end" fill="#444" font-weight="normal" transform="rotate(-57.5 254.7 48.77)" textLength="10.87" lengthAdjust="spacingAndGlyphs" stroke="#444" stroke-width="0.05" dominant-baseline="central">Calorie</text>
<line x1="256.4" y1="56.49" x2="257.7" y2="56.49" stroke="#444" stroke-width="0.5"/>
<text x="254.7" y="56.79" font-size="3.91" text-anchor="end" fill="#444" font-weight="normal" transform="rotate(-57.5 254.7 56.79)" textLength="36.5" lengthAdjust="spacingAndGlyphs" stroke="#444" stroke-width="0.05" dominant-baseline="central">fat_ACTIVITY_AVG(kcal)_sum</text>
<line x1="256.4" y1="64.51" x2="257.7" y2="64.51" stroke="#444" stroke-width="0.5"/>
<text x="254.7" y="64.81" font-size="3.91" text-anchor="end" fill="#444" font-weight="normal" transform="rotate(-57.5 254.7 64.81)" textLength="42.3" lengthAdjust="spacingAndGlyphs" stroke="#444" stroke-width="0.05" dominant-baseline="central">protein_ACTIVITY_AVG(g)_sum</text>
<line x1="256.4" y1="72.53" x2="257.7" y2="72.53" stroke="#444" stroke-width="0.5"/>
<text x="254.7" y="72.83" font-size="3.91" text-anchor="end" fill="#444" font-weight="normal" transform="rotate(-57.5 254.7 72.83)" textLength="41.2" lengthAdjust="spacingAndGlyphs" stroke="#444" stroke-width="0.05" dominant-baseline="central">sugar_ACTIVITY_AVG(g)_sum</text>
<line x1="256.4" y1="80.55" x2="257.7" y2="80.55" stroke="#444" stroke-width="0.5"/>
<text x="254.7" y="80.85" font-size="3.91" text-anchor="end" fill="#444" font-weight="normal" transform="rotate(-57.5 254.7 80.85)" textLength="52.2" lengthAdjust="spacingAndGlyphs" stroke="#444" stroke-width="0.05" dominant-baseline="central">carbohydrate_ACTIVITY_AVG(g)</text>
<line x1="256.4" y1="88.57" x2="257.7" y2="88.57" stroke="#444" stroke-width="0.5"/>
<text x="254.7" y="88.87" font-size="3.91" text-anchor="end" fill="#444" font-weight="normal" transform="rotate(-57.5 254.7 88.87)" textLength="6.53" lengthAdjust="spacingAndGlyphs" stroke="#444" stroke-width="0.05" dominant-baseline="central">MET</text>
<line x1="256.4" y1="96.59" x2="257.7" y2="96.59" stroke="#444" stroke-width="0.5"/>
<text x="254.7" y="96.89" font-size="3.91" text-anchor="end" fill="#444" font-weight="normal" transform="rotate(-57.5 254.7 96.89)" textLength="10.45" lengthAdjust="spacingAndGlyphs" stroke="#444" stroke-width="0.05" dominant-baseline="central">weight</text>
<line x1="256.4" y1="104.61" x2="257.7" y2="104.61" stroke="#444" stroke-width="0.5"/>
<text x="254.7" y="104.91" font-size="3.91" text-anchor="end" fill="#444" font-weight="normal" transform="rotate(-57.5 254.7 104.91)" textLength="5.72" lengthAdjust="spacingAndGlyphs" stroke="#444" stroke-width="0.05" dominant-baseline="central">BMI</text>
<rect x="242.1" y="127.1" width="87" height="4.7" fill="url(#jetg)"/>
<line x1="260.3" y1="131.8" x2="260.3" y2="133" stroke="#444" stroke-width="0.5"/>
<text x="260.3" y="137.6" font-size="4.52" text-anchor="middle" fill="#2a2a2a" font-weight="normal" textLength="10.71" lengthAdjust="spacingAndGlyphs" stroke="#2a2a2a" stroke-width="0.1">0.005</text>
<line x1="278.5" y1="131.8" x2="278.5" y2="133" stroke="#444" stroke-width="0.5"/>
<text x="278.5" y="137.6" font-size="4.52" text-anchor="middle" fill="#2a2a2a" font-weight="normal" textLength="10.71" lengthAdjust="spacingAndGlyphs" stroke="#2a2a2a" stroke-width="0.1">0.010</text>
<line x1="296.5" y1="131.8" x2="296.5" y2="133" stroke="#444" stroke-width="0.5"/>
<text x="296.5" y="137.6" font-size="4.52" text-anchor="middle" fill="#2a2a2a" font-weight="normal" textLength="10.71" lengthAdjust="spacingAndGlyphs" stroke="#2a2a2a" stroke-width="0.1">0.015</text>
<line x1="314.4" y1="131.8" x2="314.4" y2="133" stroke="#444" stroke-width="0.5"/>
<text x="314.4" y="137.6" font-size="4.52" text-anchor="middle" fill="#2a2a2a" font-weight="normal" textLength="10.71" lengthAdjust="spacingAndGlyphs" stroke="#2a2a2a" stroke-width="0.1">0.020</text>
<rect x="589.6" y="12.5" width="8.99" height="8.98" fill="#7bff7b"/>
<rect x="597.59" y="12.5" width="8.99" height="8.98" fill="#9cff5a"/>
<rect x="605.58" y="12.5" width="8.99" height="8.98" fill="#10fae6"/>
<rect x="613.57" y="12.5" width="8.99" height="8.98" fill="#0080ff"/>
<rect x="621.56" y="12.5" width="8.99" height="8.98" fill="#0080ff"/>
<rect x="629.55" y="12.5" width="8.99" height="8.98" fill="#009eff"/>
<rect x="637.54" y="12.5" width="7.99" height="8.98" fill="#009eff"/>
<rect x="589.6" y="20.48" width="8.99" height="8.98" fill="#31ffc5"/>
<rect x="597.59" y="20.48" width="8.99" height="8.98" fill="#52ffa5"/>
<rect x="605.58" y="20.48" width="8.99" height="8.98" fill="#009eff"/>
<rect x="613.57" y="20.48" width="8.99" height="8.98" fill="#0061ff"/>
<rect x="621.56" y="20.48" width="8.99" height="8.98" fill="#0061ff"/>
<rect x="629.55" y="20.48" width="8.99" height="8.98" fill="#0080ff"/>
<rect x="637.54" y="20.48" width="7.99" height="8.98" fill="#0080ff"/>
<rect x="589.6" y="28.46" width="8.99" height="8.98" fill="#00008d"/>
<rect x="597.59" y="28.46" width="8.99" height="8.98" fill="#00008d"/>
<rect x="605.58" y="28.46" width="8.99" height="8.98" fill="#00008d"/>
<rect x="613.57" y="28.46" width="8.99" height="8.98" fill="#00008d"/>
<rect x="621.56" y="28.46" width="8.99" height="8.98" fill="#00008d"/>
<rect x="629.55" y="28.46" width="8.99" height="8.98" fill="#00008d"/>
<rect x="637.54" y="28.46" width="7.99" height="8.98" fill="#00008d"/>
<rect x="589.6" y="36.44" width="8.99" height="8.98" fill="#002eff"/>
<rect x="597.59" y="36.44" width="8.99" height="8.98" fill="#0042ff"/>
<rect x="605.58" y="36.44" width="8.99" height="8.98" fill="#0005ff"/>
<rect x="613.57" y="36.44" width="8.99" height="8.98" fill="#0005ff"/>
<rect x="621.56" y="36.44" width="8.99" height="8.98" fill="#0005ff"/>
<rect x="629.55" y="36.44" width="8.99" height="8.98" fill="#0005ff"/>
<rect x="637.54" y="36.44" width="7.99" height="8.98" fill="#0005ff"/>
<rect x="589.6" y="44.42" width="8.99" height="8.98" fill="#00b2ff"/>
<rect x="597.59" y="44.42" width="8.99" height="8.98" fill="#00dbff"/>
<rect x="605.58" y="44.42" width="8.99" height="8.98" fill="#006bff"/>
<rect x="613.57" y="44.42" width="8.99" height="8.98" fill="#002eff"/>
<rect x="621.56" y="44.42" width="8.99" height="8.98" fill="#002eff"/>
<rect x="629.55" y="44.42" width="8.99" height="8.98" fill="#0038ff"/>
<rect x="637.54" y="44.42" width="7.99" height="8.98" fill="#0038ff"/>
<rect x="589.6" y="52.4" width="8.99" height="8.98" fill="#0094ff"/>
<rect x="597.59" y="52.4" width="8.99" height="8.98" fill="#00b2ff"/>
<rect x="605.58" y="52.4" width="8.99" height="8.98" fill="#0061ff"/>
<rect x="613.57" y="52.4" width="8.99" height="8.98" fill="#002eff"/>
<rect x="621.56" y="52.4" width="8.99" height="8.98" fill="#002eff"/>
<rect x="629.55" y="52.4" width="8.99" height="8.98" fill="#002eff"/>
<rect x="637.54" y="52.4" width="7.99" height="8.98" fill="#002eff"/>
<rect x="589.6" y="60.38" width="8.99" height="8.98" fill="#0094ff"/>
<rect x="597.59" y="60.38" width="8.99" height="8.98" fill="#00b2ff"/>
<rect x="605.58" y="60.38" width="8.99" height="8.98" fill="#0061ff"/>
<rect x="613.57" y="60.38" width="8.99" height="8.98" fill="#002eff"/>
<rect x="621.56" y="60.38" width="8.99" height="8.98" fill="#002eff"/>
<rect x="629.55" y="60.38" width="8.99" height="8.98" fill="#002eff"/>
<rect x="637.54" y="60.38" width="7.99" height="8.98" fill="#002eff"/>
<rect x="589.6" y="68.36" width="8.99" height="8.98" fill="#ff1c00"/>
<rect x="597.59" y="68.36" width="8.99" height="8.98" fill="#800000"/>
<rect x="605.58" y="68.36" width="8.99" height="8.98" fill="#ffec00"/>
<rect x="613.57" y="68.36" width="8.99" height="8.98" fill="#6bff8c"/>
<rect x="621.56" y="68.36" width="8.99" height="8.98" fill="#6bff8c"/>
<rect x="629.55" y="68.36" width="8.99" height="8.98" fill="#adff4a"/>
<rect x="637.54" y="68.36" width="7.99" height="8.98" fill="#adff4a"/>
<rect x="589.6" y="76.34" width="8.99" height="8.98" fill="#00bdff"/>
<rect x="597.59" y="76.34" width="8.99" height="8.98" fill="#00e5f7"/>
<rect x="605.58" y="76.34" width="8.99" height="8.98" fill="#006bff"/>
<rect x="613.57" y="76.34" width="8.99" height="8.98" fill="#0038ff"/>
<rect x="621.56" y="76.34" width="8.99" height="8.98" fill="#0038ff"/>
<rect x="629.55" y="76.34" width="8.99" height="8.98" fill="#0042ff"/>
<rect x="637.54" y="76.34" width="7.99" height="8.98" fill="#0042ff"/>
<rect x="589.6" y="84.32" width="8.99" height="8.98" fill="#00008d"/>
<rect x="597.59" y="84.32" width="8.99" height="8.98" fill="#00008d"/>
<rect x="605.58" y="84.32" width="8.99" height="8.98" fill="#00008d"/>
<rect x="613.57" y="84.32" width="8.99" height="8.98" fill="#00008d"/>
<rect x="621.56" y="84.32" width="8.99" height="8.98" fill="#00008d"/>
<rect x="629.55" y="84.32" width="8.99" height="8.98" fill="#00008d"/>
<rect x="637.54" y="84.32" width="7.99" height="8.98" fill="#00008d"/>
<rect x="589.6" y="92.3" width="8.99" height="7.98" fill="#00008d"/>
<rect x="597.59" y="92.3" width="8.99" height="7.98" fill="#00008d"/>
<rect x="605.58" y="92.3" width="8.99" height="7.98" fill="#00008d"/>
<rect x="613.57" y="92.3" width="8.99" height="7.98" fill="#00008d"/>
<rect x="621.56" y="92.3" width="8.99" height="7.98" fill="#00008d"/>
<rect x="629.55" y="92.3" width="8.99" height="7.98" fill="#00008d"/>
<rect x="637.54" y="92.3" width="7.99" height="7.98" fill="#00008d"/>
<line x1="593.6" y1="12.5" x2="593.6" y2="11.2" stroke="#444" stroke-width="0.5"/>
<line x1="593.6" y1="100.28" x2="593.6" y2="101.58" stroke="#444" stroke-width="0.5"/>
<text x="593.6" y="9.7" font-size="4.5" text-anchor="middle" fill="#2a2a2a" font-weight="normal" textLength="6.37" lengthAdjust="spacingAndGlyphs" stroke="#2a2a2a" stroke-width="0.1">-90</text>
<line x1="601.59" y1="12.5" x2="601.59" y2="11.2" stroke="#444" stroke-width="0.5"/>
<line x1="601.59" y1="100.28" x2="601.59" y2="101.58" stroke="#444" stroke-width="0.5"/>
<text x="601.59" y="9.7" font-size="4.5" text-anchor="middle" fill="#2a2a2a" font-weight="normal" textLength="6.37" lengthAdjust="spacingAndGlyphs" stroke="#2a2a2a" stroke-width="0.1">-75</text>
<line x1="609.58" y1="12.5" x2="609.58" y2="11.2" stroke="#444" stroke-width="0.5"/>
<line x1="609.58" y1="100.28" x2="609.58" y2="101.58" stroke="#444" stroke-width="0.5"/>
<text x="609.58" y="9.7" font-size="4.5" text-anchor="middle" fill="#2a2a2a" font-weight="normal" textLength="6.37" lengthAdjust="spacingAndGlyphs" stroke="#2a2a2a" stroke-width="0.1">-60</text>
<line x1="617.57" y1="12.5" x2="617.57" y2="11.2" stroke="#444" stroke-width="0.5"/>
<line x1="617.57" y1="100.28" x2="617.57" y2="101.58" stroke="#444" stroke-width="0.5"/>
<text x="617.57" y="9.7" font-size="4.5" text-anchor="middle" fill="#2a2a2a" font-weight="normal" textLength="6.37" lengthAdjust="spacingAndGlyphs" stroke="#2a2a2a" stroke-width="0.1">-45</text>
<line x1="625.56" y1="12.5" x2="625.56" y2="11.2" stroke="#444" stroke-width="0.5"/>
<line x1="625.56" y1="100.28" x2="625.56" y2="101.58" stroke="#444" stroke-width="0.5"/>
<text x="625.56" y="9.7" font-size="4.5" text-anchor="middle" fill="#2a2a2a" font-weight="normal" textLength="6.37" lengthAdjust="spacingAndGlyphs" stroke="#2a2a2a" stroke-width="0.1">-30</text>
<line x1="633.55" y1="12.5" x2="633.55" y2="11.2" stroke="#444" stroke-width="0.5"/>
<line x1="633.55" y1="100.28" x2="633.55" y2="101.58" stroke="#444" stroke-width="0.5"/>
<text x="633.55" y="9.7" font-size="4.5" text-anchor="middle" fill="#2a2a2a" font-weight="normal" textLength="6.37" lengthAdjust="spacingAndGlyphs" stroke="#2a2a2a" stroke-width="0.1">-15</text>
<line x1="641.54" y1="12.5" x2="641.54" y2="11.2" stroke="#444" stroke-width="0.5"/>
<line x1="641.54" y1="100.28" x2="641.54" y2="101.58" stroke="#444" stroke-width="0.5"/>
<text x="641.54" y="9.7" font-size="4.5" text-anchor="middle" fill="#2a2a2a" font-weight="normal" textLength="2.48" lengthAdjust="spacingAndGlyphs" stroke="#2a2a2a" stroke-width="0.1">0</text>
<line x1="588.3" y1="16.49" x2="589.6" y2="16.49" stroke="#444" stroke-width="0.5"/>
<text x="586.6" y="16.79" font-size="3.91" text-anchor="end" fill="#444" font-weight="normal" transform="rotate(-57.5 586.6 16.79)" textLength="12.99" lengthAdjust="spacingAndGlyphs" stroke="#444" stroke-width="0.05" dominant-baseline="central">time_sin</text>
<text x="647.93" y="20.4" font-size="6.7" text-anchor="start" fill="#1a1a1a" font-weight="normal" textLength="23.06" lengthAdjust="spacingAndGlyphs" stroke="#1a1a1a" stroke-width="0.14">time_sin</text>
<line x1="588.3" y1="24.47" x2="589.6" y2="24.47" stroke="#444" stroke-width="0.5"/>
<text x="586.6" y="24.77" font-size="3.91" text-anchor="end" fill="#444" font-weight="normal" transform="rotate(-57.5 586.6 24.77)" textLength="13.77" lengthAdjust="spacingAndGlyphs" stroke="#444" stroke-width="0.05" dominant-baseline="central">time_cos</text>
<text x="647.93" y="28.15" font-size="6.7" text-anchor="start" fill="#1a1a1a" font-weight="normal" textLength="24.43" lengthAdjust="spacingAndGlyphs" stroke="#1a1a1a" stroke-width="0.14">time_cos</text>
<line x1="588.3" y1="32.45" x2="589.6" y2="32.45" stroke="#444" stroke-width="0.5"/>
<text x="586.6" y="32.75" font-size="3.91" text-anchor="end" fill="#444" font-weight="normal" transform="rotate(-57.5 586.6 32.75)" textLength="8.32" lengthAdjust="spacingAndGlyphs" stroke="#444" stroke-width="0.05" dominant-baseline="central">steps</text>
<text x="647.93" y="35.9" font-size="6.7" text-anchor="start" fill="#1a1a1a" font-weight="normal" textLength="14.76" lengthAdjust="spacingAndGlyphs" stroke="#1a1a1a" stroke-width="0.14">steps</text>
<line x1="588.3" y1="40.43" x2="589.6" y2="40.43" stroke="#444" stroke-width="0.5"/>
<text x="586.6" y="40.73" font-size="3.91" text-anchor="end" fill="#444" font-weight="normal" transform="rotate(-57.5 586.6 40.73)" textLength="10.87" lengthAdjust="spacingAndGlyphs" stroke="#444" stroke-width="0.05" dominant-baseline="central">Calorie</text>
<text x="647.93" y="43.65" font-size="6.7" text-anchor="start" fill="#1a1a1a" font-weight="normal" textLength="19.28" lengthAdjust="spacingAndGlyphs" stroke="#1a1a1a" stroke-width="0.14">Calorie</text>
<line x1="588.3" y1="48.41" x2="589.6" y2="48.41" stroke="#444" stroke-width="0.5"/>
<text x="586.6" y="48.71" font-size="3.91" text-anchor="end" fill="#444" font-weight="normal" transform="rotate(-57.5 586.6 48.71)" textLength="36" lengthAdjust="spacingAndGlyphs" stroke="#444" stroke-width="0.05" dominant-baseline="central">fat_ACTIVITY_AVG(kcal)_sum</text>
<text x="647.93" y="51.4" font-size="6.7" text-anchor="start" fill="#1a1a1a" font-weight="normal" textLength="8.19" lengthAdjust="spacingAndGlyphs" stroke="#1a1a1a" stroke-width="0.14">Fat</text>
<line x1="588.3" y1="56.39" x2="589.6" y2="56.39" stroke="#444" stroke-width="0.5"/>
<text x="586.6" y="56.69" font-size="3.91" text-anchor="end" fill="#444" font-weight="normal" transform="rotate(-57.5 586.6 56.69)" textLength="41.5" lengthAdjust="spacingAndGlyphs" stroke="#444" stroke-width="0.05" dominant-baseline="central">protein_ACTIVITY_AVG(g)_sum</text>
<text x="647.93" y="59.15" font-size="6.7" text-anchor="start" fill="#1a1a1a" font-weight="normal" textLength="19.28" lengthAdjust="spacingAndGlyphs" stroke="#1a1a1a" stroke-width="0.14">Protein</text>
<line x1="588.3" y1="64.37" x2="589.6" y2="64.37" stroke="#444" stroke-width="0.5"/>
<text x="586.6" y="64.67" font-size="3.91" text-anchor="end" fill="#444" font-weight="normal" transform="rotate(-57.5 586.6 64.67)" textLength="40.5" lengthAdjust="spacingAndGlyphs" stroke="#444" stroke-width="0.05" dominant-baseline="central">sugar_ACTIVITY_AVG(g)_sum</text>
<text x="647.93" y="66.9" font-size="6.7" text-anchor="start" fill="#1a1a1a" font-weight="normal" textLength="15.47" lengthAdjust="spacingAndGlyphs" stroke="#1a1a1a" stroke-width="0.14">sugar</text>
<line x1="588.3" y1="72.35" x2="589.6" y2="72.35" stroke="#444" stroke-width="0.5"/>
<text x="586.6" y="72.65" font-size="3.91" text-anchor="end" fill="#444" font-weight="normal" transform="rotate(-57.5 586.6 72.65)" textLength="51.5" lengthAdjust="spacingAndGlyphs" stroke="#444" stroke-width="0.05" dominant-baseline="central">carbohydrate_ACTIVITY_AVG(g)</text>
<text x="647.93" y="74.65" font-size="6.7" text-anchor="start" fill="#1a1a1a" font-weight="normal" textLength="36.92" lengthAdjust="spacingAndGlyphs" stroke="#1a1a1a" stroke-width="0.14">carbohydrate</text>
<line x1="588.3" y1="80.33" x2="589.6" y2="80.33" stroke="#444" stroke-width="0.5"/>
<text x="586.6" y="80.63" font-size="3.91" text-anchor="end" fill="#444" font-weight="normal" transform="rotate(-57.5 586.6 80.63)" textLength="6.53" lengthAdjust="spacingAndGlyphs" stroke="#444" stroke-width="0.05" dominant-baseline="central">MET</text>
<text x="647.93" y="82.4" font-size="6.7" text-anchor="start" fill="#1a1a1a" font-weight="normal" textLength="11.58" lengthAdjust="spacingAndGlyphs" stroke="#1a1a1a" stroke-width="0.14">MET</text>
<line x1="588.3" y1="88.31" x2="589.6" y2="88.31" stroke="#444" stroke-width="0.5"/>
<text x="586.6" y="88.61" font-size="3.91" text-anchor="end" fill="#444" font-weight="normal" transform="rotate(-57.5 586.6 88.61)" textLength="10.45" lengthAdjust="spacingAndGlyphs" stroke="#444" stroke-width="0.05" dominant-baseline="central">weight</text>
<text x="647.93" y="90.15" font-size="6.7" text-anchor="start" fill="#1a1a1a" font-weight="normal" textLength="18.54" lengthAdjust="spacingAndGlyphs" stroke="#1a1a1a" stroke-width="0.14">weight</text>
<line x1="588.3" y1="96.29" x2="589.6" y2="96.29" stroke="#444" stroke-width="0.5"/>
<text x="586.6" y="96.59" font-size="3.91" text-anchor="end" fill="#444" font-weight="normal" transform="rotate(-57.5 586.6 96.59)" textLength="5.72" lengthAdjust="spacingAndGlyphs" stroke="#444" stroke-width="0.05" dominant-baseline="central">BMI</text>
<text x="647.93" y="97.9" font-size="6.7" text-anchor="start" fill="#1a1a1a" font-weight="normal" textLength="10.14" lengthAdjust="spacingAndGlyphs" stroke="#1a1a1a" stroke-width="0.14">BMI</text>
<rect x="574.3" y="118.8" width="86.4" height="4" fill="url(#jetg)"/>
<line x1="590.6" y1="122.8" x2="590.6" y2="124" stroke="#444" stroke-width="0.5"/>
<text x="590.6" y="128.6" font-size="4.52" text-anchor="middle" fill="#2a2a2a" font-weight="normal" textLength="10.71" lengthAdjust="spacingAndGlyphs" stroke="#2a2a2a" stroke-width="0.1">0.005</text>
<line x1="607.4" y1="122.8" x2="607.4" y2="124" stroke="#444" stroke-width="0.5"/>
<text x="607.4" y="128.6" font-size="4.52" text-anchor="middle" fill="#2a2a2a" font-weight="normal" textLength="10.71" lengthAdjust="spacingAndGlyphs" stroke="#2a2a2a" stroke-width="0.1">0.010</text>
<line x1="624.2" y1="122.8" x2="624.2" y2="124" stroke="#444" stroke-width="0.5"/>
<text x="624.2" y="128.6" font-size="4.52" text-anchor="middle" fill="#2a2a2a" font-weight="normal" textLength="10.71" lengthAdjust="spacingAndGlyphs" stroke="#2a2a2a" stroke-width="0.1">0.015</text>
<line x1="641.3" y1="122.8" x2="641.3" y2="124" stroke="#444" stroke-width="0.5"/>
<text x="641.3" y="128.6" font-size="4.52" text-anchor="middle" fill="#2a2a2a" font-weight="normal" textLength="10.71" lengthAdjust="spacingAndGlyphs" stroke="#2a2a2a" stroke-width="0.1">0.020</text>
<line x1="658.1" y1="122.8" x2="658.1" y2="124" stroke="#444" stroke-width="0.5"/>
<text x="658.1" y="128.6" font-size="4.52" text-anchor="middle" fill="#2a2a2a" font-weight="normal" textLength="10.71" lengthAdjust="spacingAndGlyphs" stroke="#2a2a2a" stroke-width="0.1">0.025</text>
<rect x="257.7" y="174.3" width="9.07" height="8.99" fill="#ff7b00"/>
<rect x="265.77" y="174.3" width="9.07" height="8.99" fill="#00d1ff"/>
<rect x="273.84" y="174.3" width="9.07" height="8.99" fill="#00d1ff"/>
<rect x="281.91" y="174.3" width="9.07" height="8.99" fill="#00d1ff"/>
<rect x="289.98" y="174.3" width="9.07" height="8.99" fill="#00d1ff"/>
<rect x="298.05" y="174.3" width="9.07" height="8.99" fill="#00bdff"/>
<rect x="306.12" y="174.3" width="8.07" height="8.99" fill="#19ffde"/>
<rect x="257.7" y="182.29" width="9.07" height="8.99" fill="#0080ff"/>
<rect x="265.77" y="182.29" width="9.07" height="8.99" fill="#000fff"/>
<rect x="273.84" y="182.29" width="9.07" height="8.99" fill="#000fff"/>
<rect x="281.91" y="182.29" width="9.07" height="8.99" fill="#000fff"/>
<rect x="289.98" y="182.29" width="9.07" height="8.99" fill="#000fff"/>
<rect x="298.05" y="182.29" width="9.07" height="8.99" fill="#000fff"/>
<rect x="306.12" y="182.29" width="8.07" height="8.99" fill="#000fff"/>
<rect x="257.7" y="190.28" width="9.07" height="8.99" fill="#000097"/>
<rect x="265.77" y="190.28" width="9.07" height="8.99" fill="#00008b"/>
<rect x="273.84" y="190.28" width="9.07" height="8.99" fill="#00008b"/>
<rect x="281.91" y="190.28" width="9.07" height="8.99" fill="#00008b"/>
<rect x="289.98" y="190.28" width="9.07" height="8.99" fill="#00008b"/>
<rect x="298.05" y="190.28" width="9.07" height="8.99" fill="#00008b"/>
<rect x="306.12" y="190.28" width="8.07" height="8.99" fill="#00008b"/>
<rect x="257.7" y="198.27" width="9.07" height="8.99" fill="#009eff"/>
<rect x="265.77" y="198.27" width="9.07" height="8.99" fill="#000fff"/>
<rect x="273.84" y="198.27" width="9.07" height="8.99" fill="#000fff"/>
<rect x="281.91" y="198.27" width="9.07" height="8.99" fill="#000fff"/>
<rect x="289.98" y="198.27" width="9.07" height="8.99" fill="#000fff"/>
<rect x="298.05" y="198.27" width="9.07" height="8.99" fill="#000fff"/>
<rect x="306.12" y="198.27" width="8.07" height="8.99" fill="#000fff"/>
<rect x="257.7" y="206.26" width="9.07" height="8.99" fill="#0038ff"/>
<rect x="265.77" y="206.26" width="9.07" height="8.99" fill="#0000f3"/>
<rect x="273.84" y="206.26" width="9.07" height="8.99" fill="#0000f3"/>
<rect x="281.91" y="206.26" width="9.07" height="8.99" fill="#0000f3"/>
<rect x="289.98" y="206.26" width="9.07" height="8.99" fill="#0000f3"/>
<rect x="298.05" y="206.26" width="9.07" height="8.99" fill="#0000f3"/>
<rect x="306.12" y="206.26" width="8.07" height="8.99" fill="#0000f3"/>
<rect x="257.7" y="214.25" width="9.07" height="8.99" fill="#002eff"/>
<rect x="265.77" y="214.25" width="9.07" height="8.99" fill="#0000f3"/>
<rect x="273.84" y="214.25" width="9.07" height="8.99" fill="#0000f3"/>
<rect x="281.91" y="214.25" width="9.07" height="8.99" fill="#0000f3"/>
<rect x="289.98" y="214.25" width="9.07" height="8.99" fill="#0000f3"/>
<rect x="298.05" y="214.25" width="9.07" height="8.99" fill="#0000f3"/>
<rect x="306.12" y="214.25" width="8.07" height="8.99" fill="#0000f3"/>
<rect x="257.7" y="222.24" width="9.07" height="8.99" fill="#00a8ff"/>
<rect x="265.77" y="222.24" width="9.07" height="8.99" fill="#000fff"/>
<rect x="273.84" y="222.24" width="9.07" height="8.99" fill="#000fff"/>
<rect x="281.91" y="222.24" width="9.07" height="8.99" fill="#000fff"/>
<rect x="289.98" y="222.24" width="9.07" height="8.99" fill="#000fff"/>
<rect x="298.05" y="222.24" width="9.07" height="8.99" fill="#000fff"/>
<rect x="306.12" y="222.24" width="8.07" height="8.99" fill="#000fff"/>
<rect x="257.7" y="230.23" width="9.07" height="8.99" fill="#800000"/>
<rect x="265.77" y="230.23" width="9.07" height="8.99" fill="#52ffa5"/>
<rect x="273.84" y="230.23" width="9.07" height="8.99" fill="#52ffa5"/>
<rect x="281.91" y="230.23" width="9.07" height="8.99" fill="#52ffa5"/>
<rect x="289.98" y="230.23" width="9.07" height="8.99" fill="#42ffb5"/>
<rect x="298.05" y="230.23" width="9.07" height="8.99" fill="#42ffb5"/>
<rect x="306.12" y="230.23" width="8.07" height="8.99" fill="#63ff94"/>
<rect x="257.7" y="238.22" width="9.07" height="8.99" fill="#0057ff"/>
<rect x="265.77" y="238.22" width="9.07" height="8.99" fill="#0000ff"/>
<rect x="273.84" y="238.22" width="9.07" height="8.99" fill="#0000ff"/>
<rect x="281.91" y="238.22" width="9.07" height="8.99" fill="#0000ff"/>
<rect x="289.98" y="238.22" width="9.07" height="8.99" fill="#0000ff"/>
<rect x="298.05" y="238.22" width="9.07" height="8.99" fill="#0000ff"/>
<rect x="306.12" y="238.22" width="8.07" height="8.99" fill="#0000ff"/>
<rect x="257.7" y="246.21" width="9.07" height="8.99" fill="#00008b"/>
<rect x="265.77" y="246.21" width="9.07" height="8.99" fill="#00008b"/>
<rect x="273.84" y="246.21" width="9.07" height="8.99" fill="#00008b"/>
<rect x="281.91" y="246.21" width="9.07" height="8.99" fill="#00008b"/>
<rect x="289.98" y="246.21" width="9.07" height="8.99" fill="#00008b"/>
<rect x="298.05" y="246.21" width="9.07" height="8.99" fill="#00008b"/>
<rect x="306.12" y="246.21" width="8.07" height="8.99" fill="#00008b"/>
<rect x="257.7" y="254.2" width="9.07" height="7.99" fill="#00008b"/>
<rect x="265.77" y="254.2" width="9.07" height="7.99" fill="#00008b"/>
<rect x="273.84" y="254.2" width="9.07" height="7.99" fill="#00008b"/>
<rect x="281.91" y="254.2" width="9.07" height="7.99" fill="#00008b"/>
<rect x="289.98" y="254.2" width="9.07" height="7.99" fill="#00008b"/>
<rect x="298.05" y="254.2" width="9.07" height="7.99" fill="#00008b"/>
<rect x="306.12" y="254.2" width="8.07" height="7.99" fill="#00008b"/>
<line x1="261.74" y1="174.3" x2="261.74" y2="173" stroke="#444" stroke-width="0.5"/>
<line x1="261.74" y1="262.19" x2="261.74" y2="263.49" stroke="#444" stroke-width="0.5"/>
<text x="261.74" y="171.5" font-size="4.5" text-anchor="middle" fill="#2a2a2a" font-weight="normal" textLength="6.37" lengthAdjust="spacingAndGlyphs" stroke="#2a2a2a" stroke-width="0.1">-90</text>
<line x1="269.81" y1="174.3" x2="269.81" y2="173" stroke="#444" stroke-width="0.5"/>
<line x1="269.81" y1="262.19" x2="269.81" y2="263.49" stroke="#444" stroke-width="0.5"/>
<text x="269.81" y="171.5" font-size="4.5" text-anchor="middle" fill="#2a2a2a" font-weight="normal" textLength="6.37" lengthAdjust="spacingAndGlyphs" stroke="#2a2a2a" stroke-width="0.1">-75</text>
<line x1="277.88" y1="174.3" x2="277.88" y2="173" stroke="#444" stroke-width="0.5"/>
<line x1="277.88" y1="262.19" x2="277.88" y2="263.49" stroke="#444" stroke-width="0.5"/>
<text x="277.88" y="171.5" font-size="4.5" text-anchor="middle" fill="#2a2a2a" font-weight="normal" textLength="6.37" lengthAdjust="spacingAndGlyphs" stroke="#2a2a2a" stroke-width="0.1">-60</text>
<line x1="285.94" y1="174.3" x2="285.94" y2="173" stroke="#444" stroke-width="0.5"/>
<line x1="285.94" y1="262.19" x2="285.94" y2="263.49" stroke="#444" stroke-width="0.5"/>
<text x="285.94" y="171.5" font-size="4.5" text-anchor="middle" fill="#2a2a2a" font-weight="normal" textLength="6.37" lengthAdjust="spacingAndGlyphs" stroke="#2a2a2a" stroke-width="0.1">-45</text>
<line x1="294.01" y1="174.3" x2="294.01" y2="173" stroke="#444" stroke-width="0.5"/>
<line x1="294.01" y1="262.19" x2="294.01" y2="263.49" stroke="#444" stroke-width="0.5"/>
<text x="294.01" y="171.5" font-size="4.5" text-anchor="middle" fill="#2a2a2a" font-weight="normal" textLength="6.37" lengthAdjust="spacingAndGlyphs" stroke="#2a2a2a" stroke-width="0.1">-30</text>
<line x1="302.08" y1="174.3" x2="302.08" y2="173" stroke="#444" stroke-width="0.5"/>
<line x1="302.08" y1="262.19" x2="302.08" y2="263.49" stroke="#444" stroke-width="0.5"/>
<text x="302.08" y="171.5" font-size="4.5" text-anchor="middle" fill="#2a2a2a" font-weight="normal" textLength="6.37" lengthAdjust="spacingAndGlyphs" stroke="#2a2a2a" stroke-width="0.1">-15</text>
<line x1="310.15" y1="174.3" x2="310.15" y2="173" stroke="#444" stroke-width="0.5"/>
<line x1="310.15" y1="262.19" x2="310.15" y2="263.49" stroke="#444" stroke-width="0.5"/>
<text x="310.15" y="171.5" font-size="4.5" text-anchor="middle" fill="#2a2a2a" font-weight="normal" textLength="2.48" lengthAdjust="spacingAndGlyphs" stroke="#2a2a2a" stroke-width="0.1">0</text>
<line x1="256.4" y1="178.3" x2="257.7" y2="178.3" stroke="#444" stroke-width="0.5"/>
<text x="254.7" y="178.6" font-size="3.91" text-anchor="end" fill="#444" font-weight="normal" transform="rotate(-57.5 254.7 178.6)" textLength="12.99" lengthAdjust="spacingAndGlyphs" stroke="#444" stroke-width="0.05" dominant-baseline="central">time_sin</text>
<line x1="256.4" y1="186.29" x2="257.7" y2="186.29" stroke="#444" stroke-width="0.5"/>
<text x="254.7" y="186.59" font-size="3.91" text-anchor="end" fill="#444" font-weight="normal" transform="rotate(-57.5 254.7 186.59)" textLength="13.77" lengthAdjust="spacingAndGlyphs" stroke="#444" stroke-width="0.05" dominant-baseline="central">time_cos</text>
<line x1="256.4" y1="194.28" x2="257.7" y2="194.28" stroke="#444" stroke-width="0.5"/>
<text x="254.7" y="194.58" font-size="3.91" text-anchor="end" fill="#444" font-weight="normal" transform="rotate(-57.5 254.7 194.58)" textLength="8.32" lengthAdjust="spacingAndGlyphs" stroke="#444" stroke-width="0.05" dominant-baseline="central">steps</text>
<line x1="256.4" y1="202.27" x2="257.7" y2="202.27" stroke="#444" stroke-width="0.5"/>
<text x="254.7" y="202.57" font-size="3.91" text-anchor="end" fill="#444" font-weight="normal" transform="rotate(-57.5 254.7 202.57)" textLength="10.87" lengthAdjust="spacingAndGlyphs" stroke="#444" stroke-width="0.05" dominant-baseline="central">Calorie</text>
<line x1="256.4" y1="210.25" x2="257.7" y2="210.25" stroke="#444" stroke-width="0.5"/>
<text x="254.7" y="210.56" font-size="3.91" text-anchor="end" fill="#444" font-weight="normal" transform="rotate(-57.5 254.7 210.56)" textLength="36.5" lengthAdjust="spacingAndGlyphs" stroke="#444" stroke-width="0.05" dominant-baseline="central">fat_ACTIVITY_AVG(kcal)_sum</text>
<line x1="256.4" y1="218.25" x2="257.7" y2="218.25" stroke="#444" stroke-width="0.5"/>
<text x="254.7" y="218.55" font-size="3.91" text-anchor="end" fill="#444" font-weight="normal" transform="rotate(-57.5 254.7 218.55)" textLength="42.3" lengthAdjust="spacingAndGlyphs" stroke="#444" stroke-width="0.05" dominant-baseline="central">protein_ACTIVITY_AVG(g)_sum</text>
<line x1="256.4" y1="226.24" x2="257.7" y2="226.24" stroke="#444" stroke-width="0.5"/>
<text x="254.7" y="226.54" font-size="3.91" text-anchor="end" fill="#444" font-weight="normal" transform="rotate(-57.5 254.7 226.54)" textLength="41.2" lengthAdjust="spacingAndGlyphs" stroke="#444" stroke-width="0.05" dominant-baseline="central">sugar_ACTIVITY_AVG(g)_sum</text>
<line x1="256.4" y1="234.23" x2="257.7" y2="234.23" stroke="#444" stroke-width="0.5"/>
<text x="254.7" y="234.53" font-size="3.91" text-anchor="end" fill="#444" font-weight="normal" transform="rotate(-57.5 254.7 234.53)" textLength="52.2" lengthAdjust="spacingAndGlyphs" stroke="#444" stroke-width="0.05" dominant-baseline="central">carbohydrate_ACTIVITY_AVG(g)</text>
<line x1="256.4" y1="242.22" x2="257.7" y2="242.22" stroke="#444" stroke-width="0.5"/>
<text x="254.7" y="242.52" font-size="3.91" text-anchor="end" fill="#444" font-weight="normal" transform="rotate(-57.5 254.7 242.52)" textLength="6.53" lengthAdjust="spacingAndGlyphs" stroke="#444" stroke-width="0.05" dominant-baseline="central">MET</text>
<line x1="256.4" y1="250.21" x2="257.7" y2="250.21" stroke="#444" stroke-width="0.5"/>
<text x="254.7" y="250.51" font-size="3.91" text-anchor="end" fill="#444" font-weight="normal" transform="rotate(-57.5 254.7 250.51)" textLength="10.45" lengthAdjust="spacingAndGlyphs" stroke="#444" stroke-width="0.05" dominant-baseline="central">weight</text>
<line x1="256.4" y1="258.19" x2="257.7" y2="258.19" stroke="#444" stroke-width="0.5"/>
<text x="254.7" y="258.5" font-size="3.91" text-anchor="end" fill="#444" font-weight="normal" transform="rotate(-57.5 254.7 258.5)" textLength="5.72" lengthAdjust="spacingAndGlyphs" stroke="#444" stroke-width="0.05" dominant-baseline="central">BMI</text>
<rect x="242.1" y="281.4" width="87" height="4.6" fill="url(#jetg)"/>
<line x1="259.4" y1="286" x2="259.4" y2="287.2" stroke="#444" stroke-width="0.5"/>
<text x="259.4" y="291.8" font-size="4.52" text-anchor="middle" fill="#2a2a2a" font-weight="normal" textLength="10.71" lengthAdjust="spacingAndGlyphs" stroke="#2a2a2a" stroke-width="0.1">0.005</text>
<line x1="277.3" y1="286" x2="277.3" y2="287.2" stroke="#444" stroke-width="0.5"/>
<text x="277.3" y="291.8" font-size="4.52" text-anchor="middle" fill="#2a2a2a" font-weight="normal" textLength="10.71" lengthAdjust="spacingAndGlyphs" stroke="#2a2a2a" stroke-width="0.1">0.010</text>
<line x1="294.8" y1="286" x2="294.8" y2="287.2" stroke="#444" stroke-width="0.5"/>
<text x="294.8" y="291.8" font-size="4.52" text-anchor="middle" fill="#2a2a2a" font-weight="normal" textLength="10.71" lengthAdjust="spacingAndGlyphs" stroke="#2a2a2a" stroke-width="0.1">0.015</text>
<line x1="312.4" y1="286" x2="312.4" y2="287.2" stroke="#444" stroke-width="0.5"/>
<text x="312.4" y="291.8" font-size="4.52" text-anchor="middle" fill="#2a2a2a" font-weight="normal" textLength="10.71" lengthAdjust="spacingAndGlyphs" stroke="#2a2a2a" stroke-width="0.1">0.020</text>
<rect x="592.2" y="165.2" width="8.99" height="8.96" fill="#ffb300"/>
<rect x="600.19" y="165.2" width="8.99" height="8.96" fill="#0080ff"/>
<rect x="608.18" y="165.2" width="8.99" height="8.96" fill="#0057ff"/>
<rect x="616.17" y="165.2" width="8.99" height="8.96" fill="#0057ff"/>
<rect x="624.16" y="165.2" width="8.99" height="8.96" fill="#0057ff"/>
<rect x="632.15" y="165.2" width="8.99" height="8.96" fill="#0057ff"/>
<rect x="640.14" y="165.2" width="7.99" height="8.96" fill="#a5ff52"/>
<rect x="592.2" y="173.16" width="8.99" height="8.96" fill="#0094ff"/>
<rect x="600.19" y="173.16" width="8.99" height="8.96" fill="#0000d1"/>
<rect x="608.18" y="173.16" width="8.99" height="8.96" fill="#0000d1"/>
<rect x="616.17" y="173.16" width="8.99" height="8.96" fill="#0000d1"/>
<rect x="624.16" y="173.16" width="8.99" height="8.96" fill="#0000d1"/>
<rect x="632.15" y="173.16" width="8.99" height="8.96" fill="#0000d1"/>
<rect x="640.14" y="173.16" width="7.99" height="8.96" fill="#0042ff"/>
<rect x="592.2" y="181.12" width="8.99" height="8.96" fill="#00008d"/>
<rect x="600.19" y="181.12" width="8.99" height="8.96" fill="#00008d"/>
<rect x="608.18" y="181.12" width="8.99" height="8.96" fill="#00008d"/>
<rect x="616.17" y="181.12" width="8.99" height="8.96" fill="#00008d"/>
<rect x="624.16" y="181.12" width="8.99" height="8.96" fill="#00008d"/>
<rect x="632.15" y="181.12" width="8.99" height="8.96" fill="#00008d"/>
<rect x="640.14" y="181.12" width="7.99" height="8.96" fill="#00008d"/>
<rect x="592.2" y="189.08" width="8.99" height="8.96" fill="#009eff"/>
<rect x="600.19" y="189.08" width="8.99" height="8.96" fill="#0000d1"/>
<rect x="608.18" y="189.08" width="8.99" height="8.96" fill="#0000d1"/>
<rect x="616.17" y="189.08" width="8.99" height="8.96" fill="#0000d1"/>
<rect x="624.16" y="189.08" width="8.99" height="8.96" fill="#0000d1"/>
<rect x="632.15" y="189.08" width="8.99" height="8.96" fill="#0000d1"/>
<rect x="640.14" y="189.08" width="7.99" height="8.96" fill="#0057ff"/>
<rect x="592.2" y="197.04" width="8.99" height="8.96" fill="#0038ff"/>
<rect x="600.19" y="197.04" width="8.99" height="8.96" fill="#0000c5"/>
<rect x="608.18" y="197.04" width="8.99" height="8.96" fill="#0000c5"/>
<rect x="616.17" y="197.04" width="8.99" height="8.96" fill="#0000c5"/>
<rect x="624.16" y="197.04" width="8.99" height="8.96" fill="#0000c5"/>
<rect x="632.15" y="197.04" width="8.99" height="8.96" fill="#0000c5"/>
<rect x="640.14" y="197.04" width="7.99" height="8.96" fill="#0024ff"/>
<rect x="592.2" y="205" width="8.99" height="8.96" fill="#002eff"/>
<rect x="600.19" y="205" width="8.99" height="8.96" fill="#0000c5"/>
<rect x="608.18" y="205" width="8.99" height="8.96" fill="#0000c5"/>
<rect x="616.17" y="205" width="8.99" height="8.96" fill="#0000c5"/>
<rect x="624.16" y="205" width="8.99" height="8.96" fill="#0000c5"/>
<rect x="632.15" y="205" width="8.99" height="8.96" fill="#0000c5"/>
<rect x="640.14" y="205" width="7.99" height="8.96" fill="#000fff"/>
<rect x="592.2" y="212.96" width="8.99" height="8.96" fill="#009eff"/>
<rect x="600.19" y="212.96" width="8.99" height="8.96" fill="#0000e8"/>
<rect x="608.18" y="212.96" width="8.99" height="8.96" fill="#0000e8"/>
<rect x="616.17" y="212.96" width="8.99" height="8.96" fill="#0000e8"/>
<rect x="624.16" y="212.96" width="8.99" height="8.96" fill="#0000e8"/>
<rect x="632.15" y="212.96" width="8.99" height="8.96" fill="#0000e8"/>
<rect x="640.14" y="212.96" width="7.99" height="8.96" fill="#0057ff"/>
<rect x="592.2" y="220.92" width="8.99" height="8.96" fill="#800000"/>
<rect x="600.19" y="220.92" width="8.99" height="8.96" fill="#00d1ff"/>
<rect x="608.18" y="220.92" width="8.99" height="8.96" fill="#00bdff"/>
<rect x="616.17" y="220.92" width="8.99" height="8.96" fill="#00bdff"/>
<rect x="624.16" y="220.92" width="8.99" height="8.96" fill="#00c7ff"/>
<rect x="632.15" y="220.92" width="8.99" height="8.96" fill="#00c7ff"/>
<rect x="640.14" y="220.92" width="7.99" height="8.96" fill="#ffb300"/>
<rect x="592.2" y="228.88" width="8.99" height="8.96" fill="#0038ff"/>
<rect x="600.19" y="228.88" width="8.99" height="8.96" fill="#0000c5"/>
<rect x="608.18" y="228.88" width="8.99" height="8.96" fill="#0000c5"/>
<rect x="616.17" y="228.88" width="8.99" height="8.96" fill="#0000c5"/>
<rect x="624.16" y="228.88" width="8.99" height="8.96" fill="#0000c5"/>
<rect x="632.15" y="228.88" width="8.99" height="8.96" fill="#0000c5"/>
<rect x="640.14" y="228.88" width="7.99" height="8.96" fill="#000fff"/>
<rect x="592.2" y="236.84" width="8.99" height="8.96" fill="#000091"/>
<rect x="600.19" y="236.84" width="8.99" height="8.96" fill="#00008b"/>
<rect x="608.18" y="236.84" width="8.99" height="8.96" fill="#00008b"/>
<rect x="616.17" y="236.84" width="8.99" height="8.96" fill="#00008b"/>
<rect x="624.16" y="236.84" width="8.99" height="8.96" fill="#00008b"/>
<rect x="632.15" y="236.84" width="8.99" height="8.96" fill="#00008b"/>
<rect x="640.14" y="236.84" width="7.99" height="8.96" fill="#00008b"/>
<rect x="592.2" y="244.8" width="8.99" height="7.96" fill="#000091"/>
<rect x="600.19" y="244.8" width="8.99" height="7.96" fill="#00008b"/>
<rect x="608.18" y="244.8" width="8.99" height="7.96" fill="#00008b"/>
<rect x="616.17" y="244.8" width="8.99" height="7.96" fill="#00008b"/>
<rect x="624.16" y="244.8" width="8.99" height="7.96" fill="#00008b"/>
<rect x="632.15" y="244.8" width="8.99" height="7.96" fill="#00008b"/>
<rect x="640.14" y="244.8" width="7.99" height="7.96" fill="#00008b"/>
<line x1="596.2" y1="165.2" x2="596.2" y2="163.9" stroke="#444" stroke-width="0.5"/>
<line x1="596.2" y1="252.76" x2="596.2" y2="254.06" stroke="#444" stroke-width="0.5"/>
<text x="596.2" y="162.4" font-size="4.5" text-anchor="middle" fill="#2a2a2a" font-weight="normal" textLength="6.37" lengthAdjust="spacingAndGlyphs" stroke="#2a2a2a" stroke-width="0.1">-90</text>
<line x1="604.19" y1="165.2" x2="604.19" y2="163.9" stroke="#444" stroke-width="0.5"/>
<line x1="604.19" y1="252.76" x2="604.19" y2="254.06" stroke="#444" stroke-width="0.5"/>
<text x="604.19" y="162.4" font-size="4.5" text-anchor="middle" fill="#2a2a2a" font-weight="normal" textLength="6.37" lengthAdjust="spacingAndGlyphs" stroke="#2a2a2a" stroke-width="0.1">-75</text>
<line x1="612.18" y1="165.2" x2="612.18" y2="163.9" stroke="#444" stroke-width="0.5"/>
<line x1="612.18" y1="252.76" x2="612.18" y2="254.06" stroke="#444" stroke-width="0.5"/>
<text x="612.18" y="162.4" font-size="4.5" text-anchor="middle" fill="#2a2a2a" font-weight="normal" textLength="6.37" lengthAdjust="spacingAndGlyphs" stroke="#2a2a2a" stroke-width="0.1">-60</text>
<line x1="620.17" y1="165.2" x2="620.17" y2="163.9" stroke="#444" stroke-width="0.5"/>
<line x1="620.17" y1="252.76" x2="620.17" y2="254.06" stroke="#444" stroke-width="0.5"/>
<text x="620.17" y="162.4" font-size="4.5" text-anchor="middle" fill="#2a2a2a" font-weight="normal" textLength="6.37" lengthAdjust="spacingAndGlyphs" stroke="#2a2a2a" stroke-width="0.1">-45</text>
<line x1="628.16" y1="165.2" x2="628.16" y2="163.9" stroke="#444" stroke-width="0.5"/>
<line x1="628.16" y1="252.76" x2="628.16" y2="254.06" stroke="#444" stroke-width="0.5"/>
<text x="628.16" y="162.4" font-size="4.5" text-anchor="middle" fill="#2a2a2a" font-weight="normal" textLength="6.37" lengthAdjust="spacingAndGlyphs" stroke="#2a2a2a" stroke-width="0.1">-30</text>
<line x1="636.15" y1="165.2" x2="636.15" y2="163.9" stroke="#444" stroke-width="0.5"/>
<line x1="636.15" y1="252.76" x2="636.15" y2="254.06" stroke="#444" stroke-width="0.5"/>
<text x="636.15" y="162.4" font-size="4.5" text-anchor="middle" fill="#2a2a2a" font-weight="normal" textLength="6.37" lengthAdjust="spacingAndGlyphs" stroke="#2a2a2a" stroke-width="0.1">-15</text>
<line x1="644.13" y1="165.2" x2="644.13" y2="163.9" stroke="#444" stroke-width="0.5"/>
<line x1="644.13" y1="252.76" x2="644.13" y2="254.06" stroke="#444" stroke-width="0.5"/>
<text x="644.13" y="162.4" font-size="4.5" text-anchor="middle" fill="#2a2a2a" font-weight="normal" textLength="2.48" lengthAdjust="spacingAndGlyphs" stroke="#2a2a2a" stroke-width="0.1">0</text>
<line x1="590.9" y1="169.18" x2="592.2" y2="169.18" stroke="#444" stroke-width="0.5"/>
<text x="589.2" y="169.48" font-size="3.91" text-anchor="end" fill="#444" font-weight="normal" transform="rotate(-57.5 589.2 169.48)" textLength="12.99" lengthAdjust="spacingAndGlyphs" stroke="#444" stroke-width="0.05" dominant-baseline="central">time_sin</text>
<line x1="590.9" y1="177.14" x2="592.2" y2="177.14" stroke="#444" stroke-width="0.5"/>
<text x="589.2" y="177.44" font-size="3.91" text-anchor="end" fill="#444" font-weight="normal" transform="rotate(-57.5 589.2 177.44)" textLength="13.77" lengthAdjust="spacingAndGlyphs" stroke="#444" stroke-width="0.05" dominant-baseline="central">time_cos</text>
<line x1="590.9" y1="185.1" x2="592.2" y2="185.1" stroke="#444" stroke-width="0.5"/>
<text x="589.2" y="185.4" font-size="3.91" text-anchor="end" fill="#444" font-weight="normal" transform="rotate(-57.5 589.2 185.4)" textLength="8.32" lengthAdjust="spacingAndGlyphs" stroke="#444" stroke-width="0.05" dominant-baseline="central">steps</text>
<line x1="590.9" y1="193.06" x2="592.2" y2="193.06" stroke="#444" stroke-width="0.5"/>
<text x="589.2" y="193.36" font-size="3.91" text-anchor="end" fill="#444" font-weight="normal" transform="rotate(-57.5 589.2 193.36)" textLength="10.87" lengthAdjust="spacingAndGlyphs" stroke="#444" stroke-width="0.05" dominant-baseline="central">Calorie</text>
<line x1="590.9" y1="201.02" x2="592.2" y2="201.02" stroke="#444" stroke-width="0.5"/>
<text x="589.2" y="201.32" font-size="3.91" text-anchor="end" fill="#444" font-weight="normal" transform="rotate(-57.5 589.2 201.32)" textLength="36" lengthAdjust="spacingAndGlyphs" stroke="#444" stroke-width="0.05" dominant-baseline="central">fat_ACTIVITY_AVG(kcal)_sum</text>
<line x1="590.9" y1="208.98" x2="592.2" y2="208.98" stroke="#444" stroke-width="0.5"/>
<text x="589.2" y="209.28" font-size="3.91" text-anchor="end" fill="#444" font-weight="normal" transform="rotate(-57.5 589.2 209.28)" textLength="41.5" lengthAdjust="spacingAndGlyphs" stroke="#444" stroke-width="0.05" dominant-baseline="central">protein_ACTIVITY_AVG(g)_sum</text>
<line x1="590.9" y1="216.94" x2="592.2" y2="216.94" stroke="#444" stroke-width="0.5"/>
<text x="589.2" y="217.24" font-size="3.91" text-anchor="end" fill="#444" font-weight="normal" transform="rotate(-57.5 589.2 217.24)" textLength="40.5" lengthAdjust="spacingAndGlyphs" stroke="#444" stroke-width="0.05" dominant-baseline="central">sugar_ACTIVITY_AVG(g)_sum</text>
<line x1="590.9" y1="224.9" x2="592.2" y2="224.9" stroke="#444" stroke-width="0.5"/>
<text x="589.2" y="225.2" font-size="3.91" text-anchor="end" fill="#444" font-weight="normal" transform="rotate(-57.5 589.2 225.2)" textLength="51.5" lengthAdjust="spacingAndGlyphs" stroke="#444" stroke-width="0.05" dominant-baseline="central">carbohydrate_ACTIVITY_AVG(g)</text>
<line x1="590.9" y1="232.86" x2="592.2" y2="232.86" stroke="#444" stroke-width="0.5"/>
<text x="589.2" y="233.16" font-size="3.91" text-anchor="end" fill="#444" font-weight="normal" transform="rotate(-57.5 589.2 233.16)" textLength="6.53" lengthAdjust="spacingAndGlyphs" stroke="#444" stroke-width="0.05" dominant-baseline="central">MET</text>
<line x1="590.9" y1="240.82" x2="592.2" y2="240.82" stroke="#444" stroke-width="0.5"/>
<text x="589.2" y="241.12" font-size="3.91" text-anchor="end" fill="#444" font-weight="normal" transform="rotate(-57.5 589.2 241.12)" textLength="10.45" lengthAdjust="spacingAndGlyphs" stroke="#444" stroke-width="0.05" dominant-baseline="central">weight</text>
<line x1="590.9" y1="248.78" x2="592.2" y2="248.78" stroke="#444" stroke-width="0.5"/>
<text x="589.2" y="249.08" font-size="3.91" text-anchor="end" fill="#444" font-weight="normal" transform="rotate(-57.5 589.2 249.08)" textLength="5.72" lengthAdjust="spacingAndGlyphs" stroke="#444" stroke-width="0.05" dominant-baseline="central">BMI</text>
<rect x="576.8" y="272.2" width="87.1" height="4.5" fill="url(#jetg)"/>
<line x1="591.4" y1="276.7" x2="591.4" y2="277.9" stroke="#444" stroke-width="0.5"/>
<text x="591.4" y="282.1" font-size="4.52" text-anchor="middle" fill="#2a2a2a" font-weight="normal" textLength="10.71" lengthAdjust="spacingAndGlyphs" stroke="#2a2a2a" stroke-width="0.1">0.005</text>
<line x1="606.2" y1="276.7" x2="606.2" y2="277.9" stroke="#444" stroke-width="0.5"/>
<text x="606.2" y="282.1" font-size="4.52" text-anchor="middle" fill="#2a2a2a" font-weight="normal" textLength="10.71" lengthAdjust="spacingAndGlyphs" stroke="#2a2a2a" stroke-width="0.1">0.010</text>
<line x1="620.8" y1="276.7" x2="620.8" y2="277.9" stroke="#444" stroke-width="0.5"/>
<text x="620.8" y="282.1" font-size="4.52" text-anchor="middle" fill="#2a2a2a" font-weight="normal" textLength="10.71" lengthAdjust="spacingAndGlyphs" stroke="#2a2a2a" stroke-width="0.1">0.015</text>
<line x1="635.4" y1="276.7" x2="635.4" y2="277.9" stroke="#444" stroke-width="0.5"/>
<text x="635.4" y="282.1" font-size="4.52" text-anchor="middle" fill="#2a2a2a" font-weight="normal" textLength="10.71" lengthAdjust="spacingAndGlyphs" stroke="#2a2a2a" stroke-width="0.1">0.020</text>
<line x1="650.5" y1="276.7" x2="650.5" y2="277.9" stroke="#444" stroke-width="0.5"/>
<text x="650.5" y="282.1" font-size="4.52" text-anchor="middle" fill="#2a2a2a" font-weight="normal" textLength="10.71" lengthAdjust="spacingAndGlyphs" stroke="#2a2a2a" stroke-width="0.1">0.025</text>
<text x="4.4" y="6.4" font-size="8" text-anchor="start" fill="#111" font-weight="bold" textLength="84.2" lengthAdjust="spacingAndGlyphs" stroke="#111" stroke-width="0.3">Glucose Trajectories</text>
<text x="250" y="6.4" font-size="8" text-anchor="start" fill="#111" font-weight="bold" textLength="68.8" lengthAdjust="spacingAndGlyphs" stroke="#111" stroke-width="0.3">Attention Scores</text></svg>
</body></html>
